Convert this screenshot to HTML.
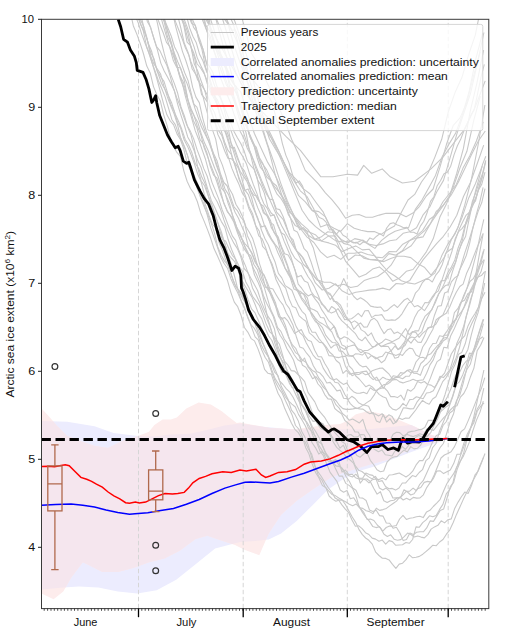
<!DOCTYPE html>
<html><head><meta charset="utf-8"><style>
html,body{margin:0;padding:0;background:#fff;}
svg{display:block;font-family:"Liberation Sans",sans-serif;}
</style></head><body>
<svg width="514" height="634" viewBox="0 0 514 634">
<rect width="514" height="634" fill="#fff"/>
<defs><clipPath id="c"><rect x="41.5" y="19.3" width="447.3" height="589.3000000000001"/></clipPath></defs>
<g clip-path="url(#c)">
<clipPath id="bc"><polygon points="41.5,420.9 67.2,421.7 94.5,426.3 113.5,433.1 138.0,435.9 154.4,436.5 170.0,434.5 190.4,433.8 210.9,429.0 224.5,425.6 240.0,423.5 265.7,427.0 291.4,429.2 330.0,429.5 368.4,429.2 411.2,425.0 432.6,435.7 447.5,439.2 447.5,439.2 428.0,446.0 410.0,452.5 390.0,460.2 374.5,466.5 359.0,471.1 343.4,478.9 327.8,489.8 312.3,505.4 296.7,520.9 281.1,533.4 268.7,539.6 255.0,541.0 240.0,542.0 215.1,548.6 195.6,564.2 176.2,579.8 156.7,590.3 137.3,593.4 117.8,591.4 98.4,587.5 78.9,586.4 63.3,587.5 41.5,589.5"/></clipPath>
<polygon points="41.5,420.9 67.2,421.7 94.5,426.3 113.5,433.1 138.0,435.9 154.4,436.5 170.0,434.5 190.4,433.8 210.9,429.0 224.5,425.6 240.0,423.5 265.7,427.0 291.4,429.2 330.0,429.5 368.4,429.2 411.2,425.0 432.6,435.7 447.5,439.2 447.5,439.2 428.0,446.0 410.0,452.5 390.0,460.2 374.5,466.5 359.0,471.1 343.4,478.9 327.8,489.8 312.3,505.4 296.7,520.9 281.1,533.4 268.7,539.6 255.0,541.0 240.0,542.0 215.1,548.6 195.6,564.2 176.2,579.8 156.7,590.3 137.3,593.4 117.8,591.4 98.4,587.5 78.9,586.4 63.3,587.5 41.5,589.5" fill="#ececfe"/>
<polygon points="41.5,408.6 48.2,415.4 56.3,425.0 67.2,435.9 80.9,441.3 95.0,446.0 108.0,448.0 121.7,441.3 138.0,435.9 149.0,431.8 154.4,425.0 162.6,419.5 170.8,419.5 176.8,417.5 186.3,408.6 198.6,402.5 210.9,404.5 221.8,411.3 228.6,416.8 236.7,422.9 240.0,422.5 270.0,428.0 295.6,429.2 325.6,425.0 340.0,424.0 347.0,421.0 356.0,414.3 368.5,411.1 384.0,414.3 396.5,419.0 415.2,426.7 430.7,434.5 447.5,439.2 447.5,439.2 411.2,448.5 390.0,459.0 368.3,464.9 343.4,472.7 330.9,477.4 312.3,489.8 296.7,500.7 281.1,514.7 268.7,533.4 259.3,555.2 245.0,550.0 235.0,545.0 222.9,540.9 207.3,535.8 195.6,538.9 180.1,550.6 164.5,558.4 149.0,562.3 133.4,568.1 117.8,572.0 102.3,572.0 90.6,566.1 82.8,562.3 71.1,577.8 63.3,591.4 53.6,599.2 41.5,593.4" fill="#fdecec"/>
<polygon points="41.5,408.6 48.2,415.4 56.3,425.0 67.2,435.9 80.9,441.3 95.0,446.0 108.0,448.0 121.7,441.3 138.0,435.9 149.0,431.8 154.4,425.0 162.6,419.5 170.8,419.5 176.8,417.5 186.3,408.6 198.6,402.5 210.9,404.5 221.8,411.3 228.6,416.8 236.7,422.9 240.0,422.5 270.0,428.0 295.6,429.2 325.6,425.0 340.0,424.0 347.0,421.0 356.0,414.3 368.5,411.1 384.0,414.3 396.5,419.0 415.2,426.7 430.7,434.5 447.5,439.2 447.5,439.2 411.2,448.5 390.0,459.0 368.3,464.9 343.4,472.7 330.9,477.4 312.3,489.8 296.7,500.7 281.1,514.7 268.7,533.4 259.3,555.2 245.0,550.0 235.0,545.0 222.9,540.9 207.3,535.8 195.6,538.9 180.1,550.6 164.5,558.4 149.0,562.3 133.4,568.1 117.8,572.0 102.3,572.0 90.6,566.1 82.8,562.3 71.1,577.8 63.3,591.4 53.6,599.2 41.5,593.4" fill="#f5e6ee" clip-path="url(#bc)"/>
<line x1="138.5" y1="19.3" x2="138.5" y2="608.6" stroke="#d6d6d6" stroke-width="1" stroke-dasharray="4.5,2.5" stroke-dashoffset="3.5"/>
<line x1="243.2" y1="19.3" x2="243.2" y2="608.6" stroke="#d6d6d6" stroke-width="1" stroke-dasharray="4.5,2.5" stroke-dashoffset="3.5"/>
<line x1="347.3" y1="19.3" x2="347.3" y2="608.6" stroke="#d6d6d6" stroke-width="1" stroke-dasharray="4.5,2.5" stroke-dashoffset="3.5"/>
<line x1="448.2" y1="19.3" x2="448.2" y2="608.6" stroke="#d6d6d6" stroke-width="1" stroke-dasharray="4.5,2.5" stroke-dashoffset="3.5"/>
<g fill="none" stroke="#c8c8c8" stroke-width="1.1" stroke-linejoin="round">
<polyline points="39.1,-252.7 42.4,-240.2 45.8,-233.6 49.2,-225.4 52.5,-216.8 55.9,-207.4 59.3,-199.6 62.6,-185.7 66.0,-176.9 69.4,-168.2 72.7,-153.0 76.1,-143.7 79.5,-132.8 82.8,-124.9 86.2,-113.6 89.6,-103.5 92.9,-94.1 96.3,-81.5 99.7,-72.7 103.0,-61.5 106.4,-52.2 109.8,-40.0 113.1,-32.2 116.5,-23.0 119.9,-11.9 123.2,-2.8 126.6,4.6 130.0,10.5 133.3,25.7 136.7,33.9 140.1,43.1 143.4,53.5 146.8,66.1 150.2,72.9 153.5,86.6 156.9,94.9 160.3,100.8 163.6,114.7 167.0,125.2 170.4,138.3 173.7,147.1 177.1,152.7 180.5,156.6 183.8,170.8 187.2,181.5 190.5,188.5 193.9,193.5 197.3,201.5 200.6,212.7 204.0,220.9 207.4,229.4 210.7,238.3 214.1,248.8 217.5,256.1 220.8,263.6 224.2,272.0 227.6,280.8 230.9,292.6 234.3,302.1 237.7,306.7 241.0,315.2 244.4,327.5 247.8,332.1 251.1,338.6 254.5,340.9 257.9,348.6 261.2,357.7 264.6,369.3 268.0,373.3 271.3,374.1 274.7,384.1 278.1,393.5 281.4,399.3 284.8,408.6 288.2,415.9 291.5,423.2 294.9,429.3 298.3,432.6 301.6,438.3 305.0,441.7 308.4,449.0 311.7,454.1 315.1,466.0 318.5,476.0 321.8,479.8 325.2,487.1 328.6,490.9 331.9,494.4 335.3,495.6 338.7,498.0 342.0,499.7 345.4,504.5 348.8,510.8 352.1,516.8 355.5,522.1 358.8,529.1 362.2,534.4 365.6,538.0 368.9,540.3 372.3,544.1 375.7,552.2 379.0,555.5 382.4,558.2 385.8,558.4 389.1,559.9 392.5,564.3 395.9,568.3 399.2,564.1 402.6,563.2 406.0,559.6 409.3,554.8 412.7,557.8 416.1,557.2 419.4,556.4 422.8,554.2 426.2,551.3 429.5,548.5 432.9,545.2 436.3,545.7 439.6,542.0 443.0,539.5 446.4,534.2 449.7,530.1 453.1,522.7 456.5,514.4 459.8,507.2 463.2,499.6 466.6,492.6 469.9,486.8 473.3,480.1 476.7,474.1 480.0,465.5 483.4,457.6"/>
<polyline points="39.0,-269.0 42.4,-262.7 45.7,-253.1 49.1,-240.3 52.5,-230.4 55.8,-216.2 59.2,-211.1 62.6,-196.8 65.9,-187.9 69.3,-179.2 72.7,-165.2 76.0,-155.9 79.4,-148.5 82.8,-139.5 86.1,-129.8 89.5,-122.4 92.9,-112.6 96.2,-103.0 99.6,-92.2 103.0,-83.2 106.3,-69.9 109.7,-61.6 113.1,-49.8 116.4,-36.4 119.8,-27.6 123.2,-22.3 126.5,-15.3 129.9,-4.3 133.3,3.0 136.6,13.4 140.0,22.6 143.4,31.3 146.7,47.0 150.1,55.8 153.5,67.7 156.8,78.5 160.2,91.1 163.5,103.7 166.9,114.8 170.3,121.0 173.6,124.9 177.0,133.9 180.4,139.5 183.7,148.8 187.1,162.5 190.5,170.7 193.8,178.3 197.2,188.5 200.6,196.9 203.9,204.1 207.3,215.2 210.7,227.9 214.0,237.3 217.4,247.1 220.8,257.2 224.1,263.5 227.5,268.2 230.9,278.7 234.2,285.9 237.6,292.6 241.0,300.3 244.3,307.0 247.7,317.4 251.1,324.9 254.4,328.4 257.8,334.8 261.2,345.0 264.5,351.5 267.9,356.1 271.3,363.0 274.6,372.1 278.0,375.6 281.4,386.6 284.7,392.4 288.1,399.5 291.5,410.1 294.8,414.2 298.2,420.7 301.6,431.2 304.9,437.1 308.3,445.3 311.7,457.7 315.0,466.5 318.4,472.4 321.8,477.3 325.1,482.7 328.5,488.0 331.8,492.3 335.2,498.1 338.6,500.0 341.9,504.9 345.3,509.2 348.7,512.7 352.0,520.0 355.4,526.2 358.8,525.8 362.1,528.6 365.5,532.7 368.9,534.5 372.2,538.1 375.6,539.1 379.0,541.2 382.3,540.1 385.7,544.2 389.1,540.6 392.4,541.6 395.8,545.3 399.2,545.0 402.5,544.8 405.9,542.5 409.3,543.3 412.6,539.5 416.0,526.9 419.4,527.2 422.7,522.7 426.1,519.9 429.5,515.8 432.8,516.8 436.2,515.4 439.6,509.4 442.9,504.4 446.3,493.9 449.7,489.7 453.0,482.4 456.4,467.5 459.8,462.0 463.1,456.8 466.5,449.1 469.9,440.8 473.2,429.7 476.6,419.9 480.0,412.1 483.3,401.2"/>
<polyline points="40.7,-262.4 44.0,-252.1 47.4,-246.2 50.8,-237.3 54.1,-227.5 57.5,-215.7 60.9,-204.4 64.2,-193.4 67.6,-176.4 71.0,-169.8 74.3,-161.7 77.7,-151.4 81.1,-144.3 84.4,-135.7 87.8,-127.2 91.2,-110.6 94.5,-100.1 97.9,-91.1 101.3,-85.3 104.6,-80.1 108.0,-74.0 111.4,-60.9 114.7,-45.1 118.1,-36.9 121.5,-26.7 124.8,-19.1 128.2,-8.6 131.6,0.8 134.9,14.7 138.3,23.1 141.7,34.1 145.0,43.0 148.4,51.8 151.8,62.0 155.1,71.1 158.5,81.0 161.8,88.7 165.2,97.1 168.6,108.3 171.9,119.7 175.3,124.6 178.7,134.3 182.0,140.8 185.4,148.8 188.8,159.7 192.1,170.5 195.5,178.8 198.9,186.7 202.2,193.7 205.6,205.5 209.0,215.4 212.3,224.0 215.7,227.9 219.1,242.7 222.4,250.2 225.8,260.3 229.2,268.2 232.5,278.7 235.9,287.0 239.3,291.5 242.6,298.4 246.0,303.9 249.4,309.6 252.7,318.3 256.1,324.1 259.5,332.3 262.8,342.6 266.2,350.8 269.6,359.3 272.9,364.8 276.3,372.3 279.7,381.1 283.0,384.5 286.4,388.8 289.8,392.2 293.1,397.3 296.5,404.2 299.9,411.8 303.2,418.5 306.6,421.9 310.0,427.5 313.3,436.9 316.7,442.2 320.1,451.4 323.4,455.7 326.8,464.1 330.1,472.4 333.5,476.8 336.9,481.4 340.2,490.0 343.6,492.2 347.0,490.5 350.3,498.7 353.7,497.7 357.1,503.3 360.4,508.3 363.8,512.4 367.2,519.5 370.5,519.1 373.9,520.5 377.3,525.0 380.6,528.2 384.0,534.2 387.4,536.5 390.7,534.8 394.1,539.2 397.5,540.2 400.8,539.6 404.2,536.7 407.6,533.1 410.9,534.5 414.3,537.0 417.7,536.0 421.0,537.1 424.4,537.9 427.8,534.6 431.1,529.1 434.5,526.9 437.9,525.3 441.2,520.8 444.6,522.9 448.0,519.7 451.3,518.9 454.7,508.4 458.1,502.1 461.4,496.8 464.8,492.1 468.2,493.4 471.5,485.5 474.9,475.1 478.3,470.8 481.6,462.5 485.0,453.5"/>
<polyline points="39.6,-293.9 43.0,-281.6 46.4,-272.8 49.7,-260.0 53.1,-253.5 56.5,-241.9 59.8,-233.2 63.2,-221.9 66.6,-211.3 69.9,-205.1 73.3,-196.2 76.7,-185.8 80.0,-172.8 83.4,-166.6 86.8,-159.2 90.1,-148.8 93.5,-139.7 96.9,-127.1 100.2,-114.5 103.6,-102.5 107.0,-93.7 110.3,-84.5 113.7,-72.6 117.1,-64.8 120.4,-57.3 123.8,-47.9 127.1,-40.9 130.5,-30.0 133.9,-19.7 137.2,-11.0 140.6,-0.8 144.0,7.5 147.3,21.4 150.7,27.6 154.1,39.7 157.4,49.8 160.8,63.1 164.2,71.0 167.5,77.0 170.9,83.5 174.3,90.6 177.6,104.2 181.0,115.3 184.4,125.5 187.7,136.9 191.1,143.0 194.5,151.5 197.8,160.6 201.2,167.8 204.6,178.6 207.9,189.6 211.3,200.4 214.7,207.2 218.0,214.8 221.4,221.6 224.8,227.1 228.1,239.3 231.5,249.2 234.9,257.3 238.2,269.6 241.6,279.8 245.0,285.7 248.3,291.3 251.7,296.6 255.1,304.5 258.4,313.4 261.8,318.9 265.2,328.2 268.5,335.8 271.9,340.5 275.3,349.4 278.6,358.8 282.0,366.1 285.4,371.4 288.7,376.8 292.1,382.7 295.4,387.4 298.8,397.7 302.2,405.7 305.5,411.1 308.9,419.5 312.3,429.0 315.6,437.9 319.0,445.6 322.4,450.9 325.7,458.1 329.1,461.9 332.5,461.4 335.8,465.9 339.2,466.4 342.6,469.3 345.9,476.3 349.3,481.2 352.7,488.0 356.0,490.3 359.4,497.7 362.8,498.1 366.1,500.5 369.5,510.0 372.9,511.4 376.2,510.3 379.6,515.6 383.0,516.1 386.3,523.0 389.7,523.2 393.1,528.3 396.4,527.3 399.8,532.7 403.2,540.6 406.5,539.4 409.9,533.1 413.3,534.6 416.6,532.2 420.0,531.7 423.4,531.8 426.7,527.9 430.1,520.9 433.5,521.4 436.8,516.1 440.2,510.4 443.6,509.1 446.9,498.5 450.3,486.6 453.7,482.3 457.0,469.9 460.4,461.3 463.7,452.9 467.1,439.2 470.5,428.3 473.8,416.8 477.2,401.1 480.6,385.2 483.9,370.0"/>
<polyline points="39.5,-269.9 42.8,-260.0 46.2,-249.8 49.6,-243.7 52.9,-230.0 56.3,-220.3 59.7,-210.2 63.0,-202.2 66.4,-193.9 69.8,-182.7 73.1,-173.5 76.5,-162.4 79.9,-153.7 83.2,-143.5 86.6,-132.1 90.0,-122.5 93.3,-114.2 96.7,-110.9 100.1,-99.7 103.4,-90.6 106.8,-84.7 110.2,-69.3 113.5,-55.3 116.9,-42.5 120.3,-32.7 123.6,-30.4 127.0,-22.5 130.4,-17.0 133.7,-7.4 137.1,8.5 140.5,24.1 143.8,30.5 147.2,39.6 150.6,52.5 153.9,58.4 157.3,71.4 160.7,76.8 164.0,81.3 167.4,92.3 170.8,104.4 174.1,110.9 177.5,122.4 180.8,128.5 184.2,140.1 187.6,146.4 190.9,154.2 194.3,163.5 197.7,174.0 201.0,181.4 204.4,194.7 207.8,203.9 211.1,213.2 214.5,219.5 217.9,231.0 221.2,234.0 224.6,242.6 228.0,253.8 231.3,258.0 234.7,261.6 238.1,270.4 241.4,281.2 244.8,289.4 248.2,299.9 251.5,308.9 254.9,312.6 258.3,320.2 261.6,328.1 265.0,335.1 268.4,343.6 271.7,349.6 275.1,355.2 278.5,364.4 281.8,372.2 285.2,373.0 288.6,379.3 291.9,387.2 295.3,388.6 298.7,395.4 302.0,405.1 305.4,409.7 308.8,418.6 312.1,426.2 315.5,431.2 318.9,437.3 322.2,445.3 325.6,452.5 329.0,459.6 332.3,461.7 335.7,469.0 339.1,476.1 342.4,476.1 345.8,483.4 349.1,485.4 352.5,488.3 355.9,495.6 359.2,506.8 362.6,512.6 366.0,517.5 369.3,521.1 372.7,526.4 376.1,527.6 379.4,526.7 382.8,531.1 386.2,527.5 389.5,526.1 392.9,526.2 396.3,525.5 399.6,519.0 403.0,515.3 406.4,519.4 409.7,518.2 413.1,517.8 416.5,516.8 419.8,516.2 423.2,517.6 426.6,511.9 429.9,510.3 433.3,506.5 436.7,503.1 440.0,499.6 443.4,491.5 446.8,483.8 450.1,478.7 453.5,473.9 456.9,467.3 460.2,456.4 463.6,447.4 467.0,437.8 470.3,429.4 473.7,420.3 477.1,409.3 480.4,403.7 483.8,388.1"/>
<polyline points="39.7,-313.7 43.0,-305.3 46.4,-298.9 49.8,-288.7 53.1,-277.4 56.5,-263.8 59.9,-252.3 63.2,-240.9 66.6,-228.4 70.0,-220.9 73.3,-211.0 76.7,-197.6 80.1,-196.6 83.4,-186.0 86.8,-174.0 90.1,-169.0 93.5,-163.3 96.9,-151.1 100.2,-138.1 103.6,-126.5 107.0,-120.3 110.3,-110.1 113.7,-98.2 117.1,-88.3 120.4,-82.0 123.8,-68.9 127.2,-58.4 130.5,-45.1 133.9,-41.9 137.3,-38.0 140.6,-31.6 144.0,-22.0 147.4,-14.4 150.7,0.8 154.1,9.3 157.5,23.6 160.8,39.5 164.2,53.4 167.6,65.8 170.9,74.9 174.3,83.4 177.7,93.3 181.0,107.0 184.4,116.0 187.8,127.4 191.1,135.4 194.5,149.4 197.9,168.6 201.2,181.0 204.6,185.8 208.0,195.2 211.3,206.3 214.7,214.1 218.1,223.1 221.4,232.0 224.8,243.8 228.2,254.3 231.5,264.9 234.9,277.5 238.3,291.3 241.6,301.9 245.0,309.8 248.4,318.5 251.7,327.6 255.1,336.9 258.4,340.2 261.8,350.0 265.2,357.5 268.5,362.3 271.9,372.6 275.3,381.8 278.6,388.3 282.0,392.8 285.4,400.5 288.7,407.4 292.1,414.9 295.5,425.5 298.8,429.2 302.2,436.3 305.6,447.4 308.9,453.8 312.3,464.3 315.7,472.8 319.0,478.0 322.4,485.6 325.8,487.4 329.1,496.0 332.5,499.1 335.9,501.2 339.2,500.0 342.6,500.2 346.0,502.0 349.3,504.2 352.7,505.7 356.1,503.9 359.4,507.7 362.8,508.4 366.2,510.7 369.5,511.6 372.9,513.6 376.3,508.2 379.6,510.4 383.0,509.6 386.4,508.4 389.7,505.9 393.1,503.5 396.5,501.1 399.8,497.0 403.2,500.0 406.6,498.2 409.9,500.0 413.3,497.4 416.7,498.1 420.0,497.9 423.4,494.8 426.7,487.6 430.1,482.6 433.5,478.3 436.8,471.1 440.2,470.8 443.6,473.6 446.9,471.8 450.3,469.9 453.7,463.6 457.0,454.2 460.4,454.3 463.8,443.4 467.1,434.6 470.5,427.9 473.9,422.6 477.2,411.3 480.6,406.5 484.0,402.9"/>
<polyline points="40.5,-262.4 43.8,-249.4 47.2,-242.2 50.6,-232.0 53.9,-224.4 57.3,-214.9 60.7,-201.0 64.0,-190.4 67.4,-183.0 70.8,-177.1 74.1,-164.7 77.5,-150.6 80.9,-140.0 84.2,-131.4 87.6,-121.7 91.0,-110.9 94.3,-104.8 97.7,-99.0 101.1,-92.5 104.4,-80.7 107.8,-71.4 111.2,-61.0 114.5,-46.8 117.9,-39.4 121.3,-29.6 124.6,-18.2 128.0,-12.5 131.4,-5.1 134.7,2.3 138.1,9.0 141.4,17.2 144.8,31.7 148.2,43.3 151.5,51.0 154.9,63.9 158.3,74.2 161.6,83.5 165.0,89.6 168.4,95.8 171.7,103.1 175.1,113.7 178.5,121.2 181.8,129.3 185.2,139.5 188.6,145.0 191.9,152.8 195.3,163.5 198.7,168.5 202.0,177.6 205.4,184.2 208.8,197.0 212.1,205.2 215.5,216.1 218.9,226.6 222.2,239.6 225.6,241.0 229.0,248.7 232.3,255.3 235.7,259.1 239.1,266.2 242.4,271.2 245.8,281.9 249.2,288.1 252.5,296.3 255.9,300.8 259.3,305.3 262.6,313.9 266.0,323.6 269.4,331.3 272.7,334.6 276.1,339.5 279.5,344.3 282.8,355.6 286.2,368.4 289.6,374.9 292.9,380.5 296.3,387.4 299.7,391.5 303.0,397.0 306.4,405.0 309.7,411.9 313.1,416.2 316.5,421.1 319.8,426.5 323.2,425.0 326.6,430.9 329.9,435.1 333.3,442.0 336.7,447.4 340.0,450.4 343.4,453.2 346.8,457.6 350.1,460.0 353.5,463.1 356.9,471.2 360.2,483.1 363.6,479.0 367.0,479.0 370.3,481.4 373.7,488.3 377.1,494.1 380.4,491.7 383.8,500.7 387.2,502.5 390.5,500.8 393.9,500.2 397.3,497.8 400.6,497.5 404.0,489.7 407.4,492.0 410.7,495.0 414.1,493.7 417.5,488.8 420.8,487.5 424.2,482.4 427.6,481.4 430.9,482.1 434.3,474.7 437.7,466.3 441.0,458.0 444.4,455.0 447.8,453.5 451.1,451.7 454.5,446.6 457.9,439.0 461.2,431.5 464.6,428.9 468.0,421.1 471.3,413.1 474.7,404.6 478.0,396.3 481.4,388.3 484.8,377.7"/>
<polyline points="38.8,-285.3 42.2,-276.8 45.5,-267.6 48.9,-257.0 52.3,-242.2 55.6,-238.0 59.0,-223.3 62.4,-212.4 65.7,-204.3 69.1,-195.5 72.5,-187.4 75.8,-179.8 79.2,-173.3 82.6,-163.8 85.9,-162.4 89.3,-149.2 92.7,-139.4 96.0,-127.7 99.4,-115.3 102.7,-105.4 106.1,-99.1 109.5,-86.7 112.8,-74.4 116.2,-66.9 119.6,-58.8 122.9,-54.8 126.3,-48.2 129.7,-39.1 133.0,-28.3 136.4,-19.1 139.8,-8.5 143.1,5.6 146.5,15.3 149.9,25.6 153.2,36.0 156.6,46.6 160.0,50.9 163.3,58.3 166.7,64.9 170.1,75.8 173.4,88.0 176.8,97.9 180.2,106.2 183.5,116.0 186.9,125.3 190.3,131.1 193.6,138.6 197.0,149.4 200.4,158.5 203.7,168.4 207.1,176.0 210.5,187.5 213.8,196.0 217.2,201.8 220.6,209.5 223.9,219.9 227.3,229.5 230.7,237.1 234.0,243.4 237.4,248.6 240.8,256.8 244.1,268.5 247.5,272.1 250.9,278.3 254.2,284.2 257.6,290.5 261.0,300.9 264.3,309.1 267.7,315.9 271.0,320.7 274.4,328.7 277.8,345.9 281.1,354.3 284.5,361.1 287.9,365.0 291.2,370.6 294.6,371.1 298.0,374.5 301.3,377.6 304.7,381.6 308.1,392.6 311.4,397.1 314.8,401.9 318.2,409.7 321.5,413.7 324.9,417.7 328.3,423.5 331.6,428.1 335.0,432.8 338.4,436.3 341.7,441.5 345.1,443.6 348.5,453.1 351.8,457.4 355.2,465.7 358.6,470.2 361.9,471.5 365.3,474.2 368.7,476.9 372.0,478.9 375.4,476.4 378.8,481.5 382.1,480.6 385.5,486.5 388.9,488.8 392.2,488.4 395.6,490.1 399.0,488.0 402.3,483.0 405.7,482.9 409.1,479.0 412.4,475.6 415.8,476.7 419.2,472.5 422.5,469.7 425.9,460.7 429.3,457.9 432.6,447.6 436.0,443.5 439.3,431.8 442.7,423.5 446.1,415.4 449.4,406.1 452.8,396.6 456.2,385.1 459.5,372.5 462.9,365.5 466.3,361.0 469.6,360.0 473.0,352.1 476.4,340.6 479.7,329.8 483.1,319.4"/>
<polyline points="39.4,-263.4 42.8,-251.8 46.2,-240.3 49.5,-231.6 52.9,-220.4 56.3,-219.8 59.6,-210.7 63.0,-201.2 66.4,-192.0 69.7,-181.1 73.1,-165.9 76.5,-157.0 79.8,-149.8 83.2,-136.9 86.6,-128.9 89.9,-117.3 93.3,-108.8 96.7,-101.5 100.0,-94.6 103.4,-87.0 106.8,-76.2 110.1,-70.3 113.5,-60.4 116.9,-52.7 120.2,-45.9 123.6,-36.5 127.0,-24.1 130.3,-17.0 133.7,-4.6 137.1,7.1 140.4,19.4 143.8,26.8 147.1,38.3 150.5,55.7 153.9,64.0 157.2,68.7 160.6,74.1 164.0,86.4 167.3,96.7 170.7,105.9 174.1,113.8 177.4,124.1 180.8,138.3 184.2,146.9 187.5,155.4 190.9,168.9 194.3,179.8 197.6,188.9 201.0,198.9 204.4,207.2 207.7,214.5 211.1,222.9 214.5,233.2 217.8,247.0 221.2,255.3 224.6,261.1 227.9,265.1 231.3,274.8 234.7,284.2 238.0,289.0 241.4,293.6 244.8,300.9 248.1,307.1 251.5,317.5 254.9,323.5 258.2,333.2 261.6,340.9 265.0,348.5 268.3,356.9 271.7,369.7 275.1,378.6 278.4,383.8 281.8,389.9 285.2,396.6 288.5,400.9 291.9,404.1 295.3,407.0 298.6,414.6 302.0,419.9 305.4,426.0 308.7,433.7 312.1,442.8 315.4,447.6 318.8,454.1 322.2,451.3 325.5,454.7 328.9,458.6 332.3,462.6 335.6,459.7 339.0,465.3 342.4,468.5 345.7,473.3 349.1,475.8 352.5,477.0 355.8,474.2 359.2,478.3 362.6,478.3 365.9,473.1 369.3,474.6 372.7,475.4 376.0,478.9 379.4,488.0 382.8,489.9 386.1,488.1 389.5,491.1 392.9,498.0 396.2,497.9 399.6,498.0 403.0,494.9 406.3,491.4 409.7,491.1 413.1,488.1 416.4,490.7 419.8,484.3 423.2,480.7 426.5,473.6 429.9,465.9 433.3,460.8 436.6,453.9 440.0,447.7 443.4,443.5 446.7,433.3 450.1,421.8 453.5,414.0 456.8,400.9 460.2,389.7 463.6,377.7 466.9,369.5 470.3,364.3 473.7,351.8 477.0,339.5 480.4,329.0 483.7,319.2"/>
<polyline points="39.1,-321.2 42.5,-315.7 45.8,-310.0 49.2,-299.0 52.6,-289.2 55.9,-280.9 59.3,-266.1 62.7,-254.7 66.0,-243.4 69.4,-238.3 72.8,-226.9 76.1,-222.5 79.5,-213.2 82.9,-199.0 86.2,-196.4 89.6,-184.4 93.0,-176.9 96.3,-172.5 99.7,-161.7 103.1,-148.6 106.4,-142.3 109.8,-132.8 113.1,-119.0 116.5,-105.8 119.9,-94.7 123.2,-87.6 126.6,-76.9 130.0,-69.0 133.3,-64.0 136.7,-58.3 140.1,-53.3 143.4,-47.5 146.8,-33.4 150.2,-27.7 153.5,-19.6 156.9,-10.0 160.3,2.3 163.6,15.7 167.0,29.5 170.4,40.4 173.7,54.4 177.1,67.4 180.5,79.5 183.8,87.7 187.2,98.7 190.6,109.2 193.9,115.3 197.3,126.2 200.7,134.2 204.0,147.2 207.4,156.1 210.8,165.2 214.1,173.8 217.5,183.8 220.9,195.1 224.2,203.7 227.6,212.2 231.0,216.2 234.3,220.8 237.7,231.4 241.1,236.6 244.4,245.4 247.8,251.9 251.2,261.7 254.5,275.1 257.9,281.9 261.3,290.2 264.6,303.6 268.0,319.2 271.4,330.4 274.7,342.9 278.1,352.7 281.4,359.5 284.8,364.2 288.2,374.2 291.5,379.1 294.9,385.2 298.3,396.3 301.6,411.4 305.0,419.2 308.4,427.9 311.7,431.3 315.1,435.9 318.5,441.9 321.8,443.8 325.2,452.6 328.6,456.7 331.9,461.5 335.3,459.7 338.7,460.9 342.0,472.0 345.4,470.0 348.8,474.6 352.1,474.2 355.5,477.7 358.9,478.9 362.2,479.1 365.6,479.8 369.0,482.9 372.3,479.7 375.7,479.0 379.1,479.6 382.4,477.9 385.8,479.9 389.2,475.0 392.5,474.8 395.9,473.9 399.3,473.0 402.6,474.9 406.0,477.0 409.4,474.6 412.7,471.2 416.1,464.9 419.5,460.6 422.8,460.6 426.2,455.3 429.6,448.7 432.9,441.2 436.3,435.5 439.7,434.2 443.0,425.5 446.4,421.5 449.7,413.0 453.1,410.5 456.5,400.7 459.8,395.0 463.2,383.3 466.6,369.2 469.9,356.7 473.3,350.5 476.7,343.5 480.0,335.9 483.4,323.7"/>
<polyline points="40.4,-305.0 43.8,-294.4 47.1,-285.4 50.5,-274.3 53.9,-266.1 57.2,-257.4 60.6,-249.0 64.0,-241.9 67.3,-232.8 70.7,-224.0 74.1,-220.1 77.4,-210.8 80.8,-203.8 84.2,-194.6 87.5,-183.7 90.9,-172.8 94.3,-160.8 97.6,-151.5 101.0,-140.3 104.4,-129.4 107.7,-123.4 111.1,-113.3 114.5,-107.0 117.8,-97.8 121.2,-90.5 124.6,-78.8 127.9,-69.3 131.3,-67.1 134.7,-59.4 138.0,-52.4 141.4,-43.2 144.8,-36.2 148.1,-23.2 151.5,-11.6 154.9,-3.8 158.2,2.4 161.6,11.8 165.0,21.9 168.3,33.1 171.7,43.7 175.1,57.1 178.4,71.2 181.8,81.0 185.2,95.6 188.5,107.7 191.9,118.8 195.3,130.9 198.6,139.2 202.0,149.4 205.3,158.7 208.7,171.1 212.1,182.6 215.4,190.6 218.8,199.1 222.2,210.0 225.5,218.3 228.9,227.1 232.3,235.9 235.6,240.3 239.0,250.8 242.4,258.8 245.7,266.4 249.1,275.9 252.5,287.9 255.8,294.2 259.2,301.4 262.6,309.2 265.9,316.9 269.3,324.7 272.7,335.2 276.0,342.1 279.4,355.4 282.8,363.3 286.1,375.2 289.5,383.6 292.9,388.3 296.2,395.6 299.6,402.6 303.0,406.2 306.3,411.3 309.7,416.7 313.1,421.4 316.4,420.6 319.8,422.0 323.2,423.9 326.5,431.1 329.9,432.5 333.3,439.5 336.6,441.4 340.0,448.2 343.4,445.2 346.7,452.6 350.1,450.6 353.5,449.2 356.8,455.4 360.2,457.2 363.6,454.0 366.9,452.4 370.3,460.3 373.6,464.5 377.0,469.7 380.4,471.8 383.7,471.0 387.1,462.0 390.5,458.6 393.8,457.0 397.2,456.4 400.6,453.2 403.9,450.1 407.3,452.0 410.7,446.6 414.0,448.9 417.4,448.3 420.8,445.0 424.1,437.6 427.5,436.2 430.9,432.3 434.2,425.0 437.6,419.1 441.0,410.7 444.3,402.6 447.7,396.3 451.1,388.3 454.4,378.5 457.8,371.3 461.2,358.6 464.5,356.0 467.9,349.4 471.3,334.8 474.6,322.6 478.0,312.9 481.4,299.4 484.7,283.0"/>
<polyline points="38.6,-303.6 41.9,-291.6 45.3,-281.2 48.7,-268.1 52.0,-257.9 55.4,-253.7 58.8,-244.8 62.1,-237.7 65.5,-227.2 68.9,-223.7 72.2,-215.2 75.6,-202.5 79.0,-195.6 82.3,-185.2 85.7,-177.9 89.1,-169.3 92.4,-161.6 95.8,-153.6 99.2,-142.6 102.5,-129.9 105.9,-124.5 109.3,-116.2 112.6,-109.2 116.0,-100.1 119.4,-86.3 122.7,-74.8 126.1,-71.6 129.5,-61.8 132.8,-52.8 136.2,-40.7 139.6,-31.5 142.9,-22.4 146.3,-13.7 149.7,-5.1 153.0,5.3 156.4,15.5 159.7,24.0 163.1,32.5 166.5,42.4 169.8,46.7 173.2,55.5 176.6,64.5 179.9,76.0 183.3,82.1 186.7,94.4 190.0,108.7 193.4,120.7 196.8,127.6 200.1,139.6 203.5,144.2 206.9,152.9 210.2,166.1 213.6,175.1 217.0,178.2 220.3,189.7 223.7,203.0 227.1,210.5 230.4,216.0 233.8,222.0 237.2,232.0 240.5,240.5 243.9,248.4 247.3,253.4 250.6,255.4 254.0,264.7 257.4,269.8 260.7,279.8 264.1,286.9 267.5,298.7 270.8,309.8 274.2,316.9 277.6,327.6 280.9,331.4 284.3,339.0 287.7,343.9 291.0,349.1 294.4,355.0 297.8,359.7 301.1,361.8 304.5,358.0 307.9,366.9 311.2,371.0 314.6,376.6 318.0,384.0 321.3,387.6 324.7,394.6 328.0,398.9 331.4,399.1 334.8,408.5 338.1,411.3 341.5,413.7 344.9,420.5 348.2,423.1 351.6,426.3 355.0,431.9 358.3,432.0 361.7,439.1 365.1,439.8 368.4,442.8 371.8,447.6 375.2,449.7 378.5,451.7 381.9,449.9 385.3,454.8 388.6,455.2 392.0,456.0 395.4,450.3 398.7,451.9 402.1,446.5 405.5,449.3 408.8,445.1 412.2,442.1 415.6,437.3 418.9,435.4 422.3,436.9 425.7,436.8 429.0,428.4 432.4,422.7 435.8,420.4 439.1,412.7 442.5,410.1 445.9,406.9 449.2,405.0 452.6,396.1 456.0,384.7 459.3,381.8 462.7,374.9 466.1,365.9 469.4,353.1 472.8,354.0 476.2,347.2 479.5,339.0 482.9,336.8"/>
<polyline points="37.7,-332.2 41.1,-328.0 44.5,-321.0 47.8,-309.4 51.2,-300.6 54.6,-292.2 57.9,-282.6 61.3,-270.8 64.7,-265.6 68.0,-258.3 71.4,-249.1 74.8,-236.2 78.1,-226.5 81.5,-218.8 84.9,-213.8 88.2,-205.0 91.6,-200.3 95.0,-192.8 98.3,-182.9 101.7,-166.3 105.0,-154.2 108.4,-141.2 111.8,-132.3 115.1,-125.4 118.5,-121.4 121.9,-113.3 125.2,-101.5 128.6,-100.1 132.0,-91.7 135.3,-81.1 138.7,-70.4 142.1,-56.3 145.4,-48.4 148.8,-40.2 152.2,-35.7 155.5,-29.6 158.9,-23.1 162.3,-17.8 165.6,-8.1 169.0,2.2 172.4,11.7 175.7,26.7 179.1,39.1 182.5,51.6 185.8,60.5 189.2,71.2 192.6,87.2 195.9,97.1 199.3,102.6 202.7,118.1 206.0,130.1 209.4,139.6 212.8,153.4 216.1,164.5 219.5,173.7 222.9,187.4 226.2,195.9 229.6,203.9 233.0,217.3 236.3,226.5 239.7,232.4 243.1,242.4 246.4,250.6 249.8,257.9 253.2,268.1 256.5,274.5 259.9,282.6 263.3,295.2 266.6,303.2 270.0,309.8 273.3,316.6 276.7,327.6 280.1,335.2 283.4,340.2 286.8,348.5 290.2,354.1 293.5,360.0 296.9,370.5 300.3,379.1 303.6,390.5 307.0,397.4 310.4,407.1 313.7,416.8 317.1,423.2 320.5,428.2 323.8,430.1 327.2,430.7 330.6,435.5 333.9,439.0 337.3,439.3 340.7,439.3 344.0,441.1 347.4,435.2 350.8,434.5 354.1,437.0 357.5,436.9 360.9,434.5 364.2,434.7 367.6,441.4 371.0,442.4 374.3,443.7 377.7,438.2 381.1,444.8 384.4,441.1 387.8,442.3 391.2,439.9 394.5,440.9 397.9,440.6 401.3,437.4 404.6,436.9 408.0,432.4 411.4,431.4 414.7,431.0 418.1,429.9 421.5,429.4 424.8,427.5 428.2,420.4 431.6,420.4 434.9,420.9 438.3,415.6 441.6,404.5 445.0,394.7 448.4,383.1 451.7,370.9 455.1,364.2 458.5,354.3 461.8,352.4 465.2,343.8 468.6,330.7 471.9,323.3 475.3,316.5 478.7,306.3 482.0,290.5 485.4,271.0"/>
<polyline points="39.7,-294.1 43.0,-286.2 46.4,-279.9 49.8,-270.4 53.1,-263.1 56.5,-259.4 59.9,-246.5 63.2,-233.3 66.6,-224.9 70.0,-220.6 73.3,-211.0 76.7,-204.1 80.1,-193.1 83.4,-185.8 86.8,-174.5 90.1,-166.7 93.5,-157.5 96.9,-148.2 100.2,-142.2 103.6,-135.3 107.0,-123.2 110.3,-115.8 113.7,-100.5 117.1,-93.3 120.4,-91.9 123.8,-83.6 127.2,-75.3 130.5,-66.2 133.9,-59.3 137.3,-48.4 140.6,-41.3 144.0,-30.8 147.4,-20.1 150.7,-11.5 154.1,-2.3 157.5,11.8 160.8,13.6 164.2,22.1 167.6,37.0 170.9,43.4 174.3,52.9 177.7,61.7 181.0,68.9 184.4,80.9 187.8,99.4 191.1,108.7 194.5,116.6 197.9,122.6 201.2,133.7 204.6,143.1 208.0,150.2 211.3,159.2 214.7,168.2 218.1,176.2 221.4,188.2 224.8,192.2 228.2,203.6 231.5,212.3 234.9,221.7 238.3,232.1 241.6,238.7 245.0,243.9 248.4,247.3 251.7,253.2 255.1,262.2 258.4,267.1 261.8,278.6 265.2,285.3 268.5,290.6 271.9,295.6 275.3,305.7 278.6,316.7 282.0,317.7 285.4,325.5 288.7,336.7 292.1,346.6 295.5,352.6 298.8,354.7 302.2,360.1 305.6,361.9 308.9,366.8 312.3,370.4 315.7,372.2 319.0,378.4 322.4,382.5 325.8,388.7 329.1,395.3 332.5,397.8 335.9,404.7 339.2,408.1 342.6,413.8 346.0,416.4 349.3,420.3 352.7,419.1 356.1,421.0 359.4,422.9 362.8,419.4 366.2,430.2 369.5,435.3 372.9,445.0 376.3,445.5 379.6,444.2 383.0,441.3 386.4,439.5 389.7,441.1 393.1,434.3 396.5,432.3 399.8,432.6 403.2,435.9 406.6,434.3 409.9,435.6 413.3,436.6 416.7,435.3 420.0,433.8 423.4,434.9 426.7,429.0 430.1,429.5 433.5,430.4 436.8,426.1 440.2,422.0 443.6,417.8 446.9,414.6 450.3,410.0 453.7,406.6 457.0,405.7 460.4,397.1 463.8,393.5 467.1,386.9 470.5,376.7 473.9,368.1 477.2,350.6 480.6,345.3 484.0,337.5"/>
<polyline points="39.9,-307.2 43.3,-300.3 46.6,-291.1 50.0,-283.6 53.4,-272.2 56.7,-263.5 60.1,-251.9 63.5,-238.8 66.8,-236.2 70.2,-229.6 73.6,-224.7 76.9,-213.8 80.3,-205.7 83.7,-196.8 87.0,-184.3 90.4,-177.8 93.8,-166.8 97.1,-157.9 100.5,-144.8 103.9,-139.8 107.2,-134.0 110.6,-126.8 114.0,-115.9 117.3,-105.8 120.7,-101.3 124.1,-92.3 127.4,-85.0 130.8,-76.8 134.2,-64.9 137.5,-61.5 140.9,-47.2 144.3,-39.4 147.6,-30.5 151.0,-16.7 154.4,-8.8 157.7,-1.4 161.1,7.7 164.5,19.6 167.8,27.7 171.2,36.0 174.6,47.0 177.9,53.5 181.3,63.1 184.7,72.8 188.0,80.4 191.4,94.2 194.7,107.6 198.1,117.4 201.5,127.1 204.8,133.4 208.2,140.3 211.6,149.9 214.9,159.0 218.3,169.1 221.7,179.0 225.0,189.0 228.4,194.4 231.8,203.7 235.1,212.2 238.5,218.2 241.9,226.6 245.2,234.0 248.6,247.6 252.0,253.1 255.3,261.1 258.7,267.6 262.1,273.8 265.4,287.3 268.8,287.8 272.2,295.4 275.5,302.7 278.9,316.6 282.3,322.7 285.6,329.2 289.0,338.2 292.4,344.9 295.7,348.3 299.1,356.1 302.5,365.3 305.8,367.2 309.2,372.5 312.6,378.7 315.9,376.7 319.3,381.2 322.7,386.5 326.0,389.8 329.4,395.0 332.8,398.1 336.1,400.8 339.5,405.5 342.9,408.6 346.2,409.4 349.6,409.4 353.0,408.9 356.3,408.2 359.7,408.9 363.0,409.1 366.4,411.7 369.8,413.8 373.1,412.5 376.5,421.1 379.9,422.4 383.2,414.6 386.6,422.1 390.0,418.6 393.3,423.9 396.7,421.7 400.1,415.0 403.4,407.8 406.8,408.1 410.2,408.9 413.5,408.8 416.9,402.2 420.3,397.9 423.6,392.6 427.0,385.9 430.4,378.1 433.7,369.3 437.1,361.6 440.5,359.2 443.8,347.3 447.2,347.9 450.6,336.0 453.9,329.6 457.3,321.8 460.7,314.7 464.0,306.9 467.4,297.7 470.8,289.4 474.1,283.1 477.5,271.1 480.9,263.1 484.2,249.0"/>
<polyline points="38.7,-289.6 42.1,-282.9 45.5,-275.9 48.8,-268.2 52.2,-255.6 55.6,-248.8 58.9,-243.7 62.3,-232.7 65.7,-227.0 69.0,-217.0 72.4,-208.9 75.8,-201.4 79.1,-187.9 82.5,-183.4 85.9,-171.8 89.2,-163.3 92.6,-153.5 96.0,-146.9 99.3,-140.4 102.7,-132.7 106.1,-129.4 109.4,-122.1 112.8,-112.5 116.2,-94.7 119.5,-85.3 122.9,-75.6 126.3,-64.5 129.6,-53.3 133.0,-46.7 136.3,-41.9 139.7,-39.9 143.1,-35.4 146.4,-24.7 149.8,-16.7 153.2,-3.0 156.5,4.5 159.9,13.4 163.3,25.7 166.6,36.8 170.0,48.4 173.4,60.8 176.7,67.2 180.1,67.8 183.5,75.8 186.8,82.9 190.2,92.7 193.6,104.0 196.9,107.1 200.3,118.5 203.7,127.4 207.0,137.4 210.4,144.7 213.8,154.0 217.1,161.1 220.5,173.6 223.9,182.5 227.2,186.0 230.6,197.0 234.0,206.9 237.3,210.6 240.7,217.0 244.1,221.2 247.4,235.7 250.8,242.8 254.2,254.2 257.5,265.9 260.9,271.9 264.3,275.2 267.6,286.2 271.0,295.8 274.4,303.5 277.7,309.6 281.1,319.2 284.5,317.5 287.8,320.9 291.2,327.0 294.6,333.6 297.9,331.3 301.3,329.5 304.6,336.2 308.0,340.2 311.4,341.6 314.7,350.3 318.1,356.6 321.5,356.7 324.8,363.5 328.2,369.0 331.6,376.6 334.9,382.2 338.3,383.0 341.7,388.1 345.0,394.7 348.4,399.4 351.8,396.3 355.1,398.5 358.5,402.7 361.9,404.6 365.2,405.3 368.6,406.3 372.0,413.6 375.3,414.0 378.7,415.9 382.1,413.7 385.4,418.0 388.8,414.8 392.2,416.6 395.5,422.3 398.9,418.0 402.3,419.5 405.6,418.1 409.0,418.3 412.4,414.2 415.7,410.0 419.1,404.9 422.5,400.4 425.8,402.8 429.2,404.3 432.6,399.0 435.9,396.7 439.3,389.3 442.7,381.6 446.0,377.8 449.4,372.0 452.8,365.7 456.1,358.0 459.5,347.5 462.9,333.3 466.2,316.2 469.6,305.4 472.9,292.3 476.3,271.7 479.7,252.4 483.0,234.4"/>
<polyline points="40.6,-320.6 44.0,-312.6 47.4,-304.8 50.7,-301.4 54.1,-292.0 57.5,-284.6 60.8,-273.3 64.2,-266.1 67.6,-258.5 70.9,-247.2 74.3,-236.7 77.7,-227.7 81.0,-220.5 84.4,-207.5 87.8,-201.1 91.1,-190.6 94.5,-187.5 97.9,-182.9 101.2,-172.0 104.6,-160.5 108.0,-158.7 111.3,-151.0 114.7,-143.1 118.1,-132.0 121.4,-121.8 124.8,-114.8 128.2,-107.6 131.5,-95.6 134.9,-90.5 138.3,-82.7 141.6,-71.3 145.0,-66.2 148.4,-57.8 151.7,-52.5 155.1,-42.8 158.5,-36.1 161.8,-22.7 165.2,-16.1 168.6,-3.2 171.9,4.8 175.3,21.1 178.7,29.7 182.0,38.3 185.4,47.8 188.7,54.7 192.1,68.7 195.5,74.0 198.8,79.4 202.2,93.4 205.6,106.6 208.9,118.9 212.3,129.4 215.7,139.1 219.0,156.9 222.4,165.1 225.8,175.7 229.1,188.3 232.5,194.3 235.9,204.3 239.2,209.6 242.6,216.7 246.0,226.7 249.3,232.2 252.7,238.6 256.1,249.3 259.4,263.3 262.8,273.6 266.2,279.8 269.5,288.0 272.9,289.1 276.3,295.0 279.6,300.5 283.0,304.9 286.4,313.0 289.7,318.4 293.1,325.3 296.5,337.3 299.8,347.0 303.2,348.3 306.6,353.2 309.9,357.1 313.3,365.7 316.7,371.4 320.0,373.1 323.4,376.9 326.8,383.0 330.1,382.4 333.5,386.4 336.9,390.9 340.2,390.1 343.6,398.2 347.0,398.6 350.3,403.6 353.7,406.8 357.0,408.6 360.4,406.9 363.8,404.9 367.1,402.4 370.5,400.3 373.9,395.4 377.2,389.6 380.6,388.4 384.0,387.5 387.3,390.8 390.7,396.6 394.1,396.5 397.4,397.6 400.8,395.1 404.2,400.2 407.5,389.6 410.9,391.2 414.3,388.1 417.6,381.6 421.0,383.0 424.4,381.5 427.7,384.5 431.1,385.1 434.5,387.5 437.8,382.3 441.2,376.9 444.6,373.1 447.9,363.8 451.3,354.0 454.7,348.6 458.0,343.9 461.4,339.4 464.8,335.6 468.1,325.7 471.5,319.0 474.9,313.8 478.2,307.8 481.6,298.7 485.0,292.3"/>
<polyline points="39.4,-334.1 42.8,-321.4 46.2,-310.4 49.5,-299.1 52.9,-296.2 56.3,-288.9 59.6,-281.7 63.0,-273.9 66.4,-263.9 69.7,-253.2 73.1,-247.1 76.5,-236.4 79.8,-232.0 83.2,-223.4 86.6,-214.4 89.9,-204.7 93.3,-195.6 96.7,-186.8 100.0,-183.1 103.4,-182.1 106.8,-169.7 110.1,-162.3 113.5,-156.3 116.9,-145.1 120.2,-134.3 123.6,-124.0 127.0,-107.2 130.3,-100.7 133.7,-92.3 137.1,-83.7 140.4,-75.6 143.8,-68.4 147.2,-67.9 150.5,-60.3 153.9,-54.5 157.3,-43.8 160.6,-36.2 164.0,-26.4 167.3,-17.6 170.7,-6.2 174.1,4.9 177.4,11.5 180.8,17.4 184.2,25.4 187.5,37.5 190.9,46.2 194.3,64.1 197.6,70.7 201.0,80.5 204.4,89.7 207.7,95.7 211.1,106.4 214.5,112.5 217.8,123.1 221.2,130.9 224.6,142.0 227.9,150.2 231.3,154.4 234.7,164.9 238.0,174.9 241.4,183.9 244.8,190.4 248.1,188.9 251.5,197.5 254.9,210.8 258.2,219.3 261.6,230.5 265.0,238.7 268.3,244.8 271.7,254.0 275.1,262.0 278.4,273.4 281.8,277.9 285.2,285.6 288.5,287.7 291.9,290.2 295.3,298.9 298.6,305.9 302.0,311.3 305.4,314.6 308.7,326.1 312.1,332.2 315.5,332.2 318.8,338.3 322.2,342.5 325.6,347.5 328.9,355.6 332.3,356.0 335.6,357.1 339.0,357.6 342.4,356.5 345.7,356.1 349.1,366.0 352.5,369.4 355.8,376.0 359.2,379.0 362.6,383.0 365.9,386.8 369.3,385.1 372.7,387.3 376.0,390.9 379.4,394.6 382.8,396.7 386.1,398.0 389.5,406.2 392.9,409.3 396.2,410.1 399.6,407.8 403.0,403.3 406.3,406.1 409.7,399.6 413.1,399.2 416.4,396.8 419.8,397.8 423.2,398.7 426.5,393.0 429.9,392.5 433.3,390.8 436.6,384.8 440.0,376.2 443.4,377.6 446.7,373.9 450.1,369.3 453.5,358.1 456.8,343.4 460.2,336.0 463.6,326.5 466.9,314.4 470.3,300.2 473.7,290.2 477.0,275.6 480.4,265.1 483.8,259.8"/>
<polyline points="40.4,-348.2 43.8,-342.8 47.2,-335.1 50.5,-326.8 53.9,-313.6 57.3,-306.8 60.6,-298.2 64.0,-295.1 67.4,-286.1 70.7,-277.0 74.1,-266.1 77.5,-259.8 80.8,-249.9 84.2,-238.2 87.5,-233.9 90.9,-230.4 94.3,-220.0 97.6,-207.5 101.0,-202.0 104.4,-190.0 107.7,-189.6 111.1,-179.4 114.5,-172.7 117.8,-159.0 121.2,-149.9 124.6,-144.0 127.9,-136.0 131.3,-125.0 134.7,-123.8 138.0,-117.3 141.4,-107.6 144.8,-96.7 148.1,-86.6 151.5,-81.8 154.9,-70.3 158.2,-61.2 161.6,-49.5 165.0,-44.8 168.3,-35.0 171.7,-28.6 175.1,-20.9 178.4,-9.8 181.8,-2.9 185.2,3.2 188.5,16.2 191.9,23.7 195.3,25.1 198.6,39.1 202.0,49.7 205.4,66.3 208.7,77.0 212.1,90.7 215.5,99.6 218.8,111.3 222.2,126.3 225.6,133.1 228.9,143.9 232.3,157.2 235.7,166.6 239.0,179.4 242.4,187.7 245.8,197.0 249.1,206.8 252.5,213.4 255.8,225.9 259.2,231.0 262.6,246.4 265.9,249.9 269.3,258.3 272.7,268.1 276.0,279.5 279.4,286.4 282.8,295.2 286.1,304.0 289.5,308.6 292.9,318.3 296.2,326.6 299.6,332.3 303.0,335.6 306.3,342.9 309.7,349.0 313.1,355.1 316.4,358.8 319.8,359.7 323.2,368.1 326.5,373.4 329.9,378.0 333.3,380.1 336.6,378.8 340.0,382.0 343.4,384.4 346.7,382.9 350.1,388.3 353.5,391.7 356.8,393.3 360.2,393.1 363.6,392.2 366.9,393.7 370.3,387.8 373.7,390.2 377.0,390.7 380.4,387.2 383.8,384.6 387.1,384.2 390.5,382.0 393.9,378.2 397.2,376.8 400.6,372.6 404.0,373.2 407.3,370.3 410.7,372.6 414.1,371.8 417.4,371.8 420.8,363.5 424.1,360.5 427.5,355.3 430.9,353.7 434.2,349.7 437.6,345.5 441.0,343.3 444.3,335.1 447.7,335.3 451.1,327.6 454.4,312.7 457.8,308.7 461.2,301.9 464.5,300.2 467.9,293.4 471.3,292.1 474.6,282.6 478.0,277.0 481.4,275.6 484.7,271.6"/>
<polyline points="40.0,-324.1 43.4,-313.2 46.7,-302.5 50.1,-295.1 53.5,-286.0 56.8,-277.3 60.2,-268.4 63.6,-260.7 66.9,-250.7 70.3,-244.5 73.7,-236.8 77.0,-225.2 80.4,-223.2 83.8,-210.3 87.1,-203.9 90.5,-192.5 93.9,-185.2 97.2,-177.7 100.6,-171.1 104.0,-166.4 107.3,-153.7 110.7,-153.6 114.1,-145.0 117.4,-132.5 120.8,-118.0 124.2,-115.9 127.5,-111.5 130.9,-102.0 134.3,-95.2 137.6,-90.4 141.0,-82.3 144.4,-72.3 147.7,-63.3 151.1,-57.0 154.5,-48.4 157.8,-35.7 161.2,-29.6 164.6,-15.8 167.9,-5.4 171.3,-2.4 174.7,3.7 178.0,10.1 181.4,17.5 184.7,23.6 188.1,33.5 191.5,49.5 194.8,58.6 198.2,78.6 201.6,94.7 204.9,98.3 208.3,103.6 211.7,113.9 215.0,122.4 218.4,130.4 221.8,135.4 225.1,146.2 228.5,157.7 231.9,168.4 235.2,176.3 238.6,183.4 242.0,192.4 245.3,197.5 248.7,208.2 252.1,215.5 255.4,225.1 258.8,235.9 262.2,239.0 265.5,247.1 268.9,257.6 272.3,264.6 275.6,274.9 279.0,280.3 282.4,284.4 285.7,288.1 289.1,299.0 292.5,306.6 295.8,307.7 299.2,315.9 302.6,318.9 305.9,321.2 309.3,332.9 312.7,335.6 316.0,339.1 319.4,342.4 322.8,342.8 326.1,346.9 329.5,352.0 332.9,355.0 336.2,360.5 339.6,363.2 343.0,373.4 346.3,370.3 349.7,374.2 353.0,373.4 356.4,372.6 359.8,372.2 363.1,371.6 366.5,371.1 369.9,376.6 373.2,379.6 376.6,377.1 380.0,382.6 383.3,388.3 386.7,382.9 390.1,380.2 393.4,375.7 396.8,376.5 400.2,376.1 403.5,373.4 406.9,370.6 410.3,369.6 413.6,373.2 417.0,373.4 420.4,375.3 423.7,366.6 427.1,364.0 430.5,360.3 433.8,354.4 437.2,348.9 440.6,341.4 443.9,338.0 447.3,337.2 450.7,325.6 454.0,321.5 457.4,316.7 460.8,312.7 464.1,307.6 467.5,300.4 470.9,290.4 474.2,286.3 477.6,277.7 481.0,271.8 484.3,259.6"/>
<polyline points="39.5,-306.1 42.9,-296.5 46.3,-287.9 49.6,-281.4 53.0,-278.1 56.4,-273.2 59.7,-267.9 63.1,-265.6 66.4,-253.2 69.8,-241.1 73.2,-226.1 76.5,-221.6 79.9,-206.8 83.3,-199.5 86.6,-195.0 90.0,-183.5 93.4,-174.5 96.7,-166.5 100.1,-161.5 103.5,-148.6 106.8,-141.9 110.2,-136.0 113.6,-128.2 116.9,-120.6 120.3,-116.0 123.7,-108.1 127.0,-99.3 130.4,-89.6 133.8,-82.7 137.1,-72.6 140.5,-65.7 143.9,-56.7 147.2,-50.9 150.6,-38.7 154.0,-29.7 157.3,-21.9 160.7,-14.0 164.1,-8.8 167.4,-0.9 170.8,5.0 174.2,7.7 177.5,14.7 180.9,28.4 184.3,43.3 187.6,51.1 191.0,61.9 194.4,70.3 197.7,80.0 201.1,84.7 204.5,89.7 207.8,102.4 211.2,110.8 214.6,121.2 217.9,134.5 221.3,141.5 224.7,151.0 228.0,158.4 231.4,158.7 234.7,162.5 238.1,167.6 241.5,177.5 244.8,189.8 248.2,194.3 251.6,203.7 254.9,211.7 258.3,220.5 261.7,227.1 265.0,225.6 268.4,232.7 271.8,239.4 275.1,244.4 278.5,248.7 281.9,257.8 285.2,268.4 288.6,274.9 292.0,280.1 295.3,286.6 298.7,293.4 302.1,300.0 305.4,304.5 308.8,308.1 312.2,316.5 315.5,321.7 318.9,323.7 322.3,327.3 325.6,335.1 329.0,339.4 332.4,342.5 335.7,342.8 339.1,350.9 342.5,351.4 345.8,355.2 349.2,356.2 352.6,355.6 355.9,360.3 359.3,364.7 362.7,366.9 366.0,366.2 369.4,370.1 372.8,376.4 376.1,380.3 379.5,380.3 382.9,377.2 386.2,379.0 389.6,379.7 393.0,379.9 396.3,379.4 399.7,381.9 403.0,382.9 406.4,381.7 409.8,380.7 413.1,379.2 416.5,380.8 419.9,380.2 423.2,379.9 426.6,373.2 430.0,364.9 433.3,359.9 436.7,350.1 440.1,345.7 443.4,340.7 446.8,338.5 450.2,330.8 453.5,324.8 456.9,316.1 460.3,305.2 463.6,295.7 467.0,288.1 470.4,276.2 473.7,263.7 477.1,250.2 480.5,233.8 483.8,219.4"/>
<polyline points="39.0,-328.4 42.4,-317.2 45.8,-312.6 49.1,-305.0 52.5,-301.7 55.9,-292.6 59.2,-286.2 62.6,-281.2 66.0,-267.6 69.3,-256.0 72.7,-250.5 76.1,-243.2 79.4,-229.7 82.8,-219.7 86.2,-208.5 89.5,-198.8 92.9,-195.6 96.3,-184.8 99.6,-182.1 103.0,-172.4 106.4,-161.3 109.7,-157.3 113.1,-151.0 116.5,-145.9 119.8,-142.6 123.2,-136.5 126.6,-130.4 129.9,-115.0 133.3,-102.3 136.7,-93.5 140.0,-84.0 143.4,-76.4 146.8,-65.2 150.1,-59.5 153.5,-57.0 156.9,-50.4 160.2,-44.2 163.6,-36.7 167.0,-30.7 170.3,-22.5 173.7,-11.9 177.1,-3.5 180.4,4.9 183.8,18.3 187.2,27.1 190.5,37.3 193.9,46.4 197.2,57.6 200.6,65.3 204.0,72.3 207.3,83.9 210.7,91.9 214.1,98.5 217.4,105.1 220.8,117.0 224.2,128.5 227.5,136.7 230.9,147.9 234.3,147.2 237.6,157.1 241.0,166.5 244.4,170.9 247.7,178.7 251.1,192.5 254.5,199.0 257.8,207.9 261.2,215.5 264.6,226.0 267.9,233.9 271.3,239.6 274.7,244.6 278.0,253.0 281.4,260.3 284.8,267.9 288.1,272.4 291.5,277.7 294.9,286.9 298.2,290.1 301.6,297.5 305.0,301.3 308.3,309.2 311.7,313.0 315.1,317.8 318.4,321.5 321.8,323.4 325.2,325.6 328.5,328.7 331.9,332.0 335.3,339.9 338.6,343.9 342.0,354.9 345.4,366.2 348.7,371.2 352.1,375.7 355.5,374.1 358.8,374.5 362.2,372.6 365.5,374.7 368.9,373.9 372.3,370.7 375.6,369.5 379.0,368.4 382.4,368.0 385.7,371.0 389.1,374.2 392.5,379.0 395.8,377.5 399.2,377.5 402.6,378.7 405.9,376.2 409.3,376.2 412.7,370.7 416.0,362.0 419.4,357.8 422.8,357.2 426.1,358.8 429.5,348.5 432.9,343.5 436.2,343.3 439.6,335.7 443.0,336.5 446.3,332.2 449.7,326.8 453.1,321.7 456.4,319.2 459.8,304.4 463.2,298.3 466.5,289.6 469.9,281.5 473.3,278.7 476.6,272.2 480.0,263.0 483.4,251.1"/>
<polyline points="39.0,-314.6 42.4,-308.6 45.8,-308.0 49.1,-297.3 52.5,-286.4 55.9,-279.1 59.2,-271.0 62.6,-260.0 65.9,-250.2 69.3,-239.9 72.7,-232.6 76.0,-226.3 79.4,-222.8 82.8,-216.6 86.1,-209.3 89.5,-200.4 92.9,-194.0 96.2,-181.3 99.6,-179.1 103.0,-170.5 106.3,-165.5 109.7,-153.5 113.1,-147.8 116.4,-140.2 119.8,-131.1 123.2,-120.8 126.5,-109.8 129.9,-108.2 133.3,-105.0 136.6,-98.1 140.0,-91.3 143.4,-81.6 146.7,-68.6 150.1,-55.7 153.5,-46.7 156.8,-39.3 160.2,-29.2 163.6,-25.6 166.9,-21.0 170.3,-15.3 173.7,-2.7 177.0,5.3 180.4,13.2 183.8,25.4 187.1,42.2 190.5,45.7 193.9,53.3 197.2,64.0 200.6,68.0 204.0,73.4 207.3,80.9 210.7,89.0 214.1,95.4 217.4,99.9 220.8,108.5 224.2,118.0 227.5,124.7 230.9,142.4 234.2,150.1 237.6,159.1 241.0,166.9 244.3,174.7 247.7,180.3 251.1,186.7 254.4,192.9 257.8,199.4 261.2,204.7 264.5,213.1 267.9,216.2 271.3,227.6 274.6,232.6 278.0,236.7 281.4,246.5 284.7,253.7 288.1,254.9 291.5,260.9 294.8,269.1 298.2,284.1 301.6,288.2 304.9,293.0 308.3,296.0 311.7,294.1 315.0,298.9 318.4,303.1 321.8,309.9 325.1,314.7 328.5,320.3 331.9,323.6 335.2,327.8 338.6,337.0 342.0,345.1 345.3,346.6 348.7,355.0 352.1,356.5 355.4,353.9 358.8,354.0 362.2,355.1 365.5,352.4 368.9,353.5 372.3,356.1 375.6,358.9 379.0,357.1 382.4,356.3 385.7,352.0 389.1,353.3 392.5,354.1 395.8,355.4 399.2,353.9 402.5,355.4 405.9,351.0 409.3,348.1 412.6,348.7 416.0,355.0 419.4,356.7 422.7,347.0 426.1,341.9 429.5,335.2 432.8,329.5 436.2,319.7 439.6,317.2 442.9,315.2 446.3,313.3 449.7,307.0 453.0,299.1 456.4,292.0 459.8,286.5 463.1,284.1 466.5,273.6 469.9,266.2 473.2,257.5 476.6,248.7 480.0,240.8 483.3,233.2"/>
<polyline points="38.1,-326.9 41.5,-317.8 44.8,-308.1 48.2,-302.7 51.6,-294.5 54.9,-286.3 58.3,-279.9 61.7,-270.6 65.0,-268.7 68.4,-256.8 71.8,-252.3 75.1,-248.4 78.5,-235.8 81.9,-230.0 85.2,-222.7 88.6,-217.9 92.0,-206.2 95.3,-199.7 98.7,-188.9 102.1,-180.9 105.4,-178.9 108.8,-171.3 112.2,-156.8 115.5,-145.3 118.9,-134.6 122.3,-130.9 125.6,-121.9 129.0,-110.0 132.4,-107.2 135.7,-101.8 139.1,-96.6 142.5,-87.2 145.8,-85.2 149.2,-77.2 152.6,-63.3 155.9,-52.1 159.3,-41.5 162.7,-33.8 166.0,-29.1 169.4,-19.3 172.7,-9.8 176.1,-9.9 179.5,-2.8 182.8,6.7 186.2,14.5 189.6,27.9 192.9,36.2 196.3,42.8 199.7,54.6 203.0,61.0 206.4,71.0 209.8,78.7 213.1,89.7 216.5,100.8 219.9,114.4 223.2,121.9 226.6,130.7 230.0,139.6 233.3,150.9 236.7,162.2 240.1,171.2 243.4,176.1 246.8,181.1 250.2,189.7 253.5,194.9 256.9,196.1 260.3,203.9 263.6,206.1 267.0,214.4 270.4,220.2 273.7,232.0 277.1,237.6 280.5,250.7 283.8,257.6 287.2,265.6 290.6,278.8 293.9,289.0 297.3,290.4 300.7,293.5 304.0,293.8 307.4,297.8 310.8,312.7 314.1,316.9 317.5,323.5 320.9,330.1 324.2,336.2 327.6,342.3 331.0,348.0 334.3,345.2 337.7,344.4 341.0,347.3 344.4,349.5 347.8,346.8 351.1,345.8 354.5,344.9 357.9,348.7 361.2,349.7 364.6,352.6 368.0,358.7 371.3,355.6 374.7,357.1 378.1,358.9 381.4,362.7 384.8,360.3 388.2,352.9 391.5,350.3 394.9,346.1 398.3,349.5 401.6,347.7 405.0,345.5 408.4,338.8 411.7,337.0 415.1,337.8 418.5,334.6 421.8,331.7 425.2,322.2 428.6,315.2 431.9,309.0 435.3,302.8 438.7,294.0 442.0,289.1 445.4,285.5 448.8,284.6 452.1,272.9 455.5,262.5 458.9,251.0 462.2,241.0 465.6,225.0 469.0,217.2 472.3,201.7 475.7,192.8 479.1,182.5 482.4,173.9 485.8,160.4"/>
<polyline points="37.9,-342.8 41.2,-337.4 44.6,-324.6 48.0,-315.1 51.3,-308.5 54.7,-301.9 58.1,-296.2 61.4,-288.3 64.8,-280.0 68.2,-274.0 71.5,-269.7 74.9,-257.3 78.3,-248.8 81.6,-241.0 85.0,-234.5 88.4,-231.1 91.7,-219.9 95.1,-214.9 98.5,-202.8 101.8,-194.5 105.2,-186.7 108.6,-179.6 111.9,-171.1 115.3,-162.3 118.7,-154.4 122.0,-146.6 125.4,-133.5 128.8,-121.5 132.1,-112.6 135.5,-106.9 138.9,-102.9 142.2,-105.0 145.6,-98.0 149.0,-88.2 152.3,-81.3 155.7,-76.2 159.1,-69.0 162.4,-57.6 165.8,-49.4 169.2,-41.4 172.5,-29.6 175.9,-18.2 179.3,-14.9 182.6,0.4 186.0,7.7 189.3,16.5 192.7,20.0 196.1,28.0 199.4,41.7 202.8,48.6 206.2,61.9 209.5,66.4 212.9,72.5 216.3,84.6 219.6,93.9 223.0,104.8 226.4,119.1 229.7,126.9 233.1,136.4 236.5,144.5 239.8,151.6 243.2,157.2 246.6,164.3 249.9,174.8 253.3,184.4 256.7,192.9 260.0,202.8 263.4,212.8 266.8,215.5 270.1,222.4 273.5,224.6 276.9,235.8 280.2,244.3 283.6,254.1 287.0,263.8 290.3,273.2 293.7,281.7 297.1,290.7 300.4,291.3 303.8,294.5 307.2,302.4 310.5,308.4 313.9,309.8 317.3,311.8 320.6,317.5 324.0,317.9 327.4,325.9 330.7,330.0 334.1,326.1 337.5,336.7 340.8,339.0 344.2,336.8 347.6,337.9 350.9,340.8 354.3,343.2 357.6,349.4 361.0,352.8 364.4,350.5 367.7,350.5 371.1,348.4 374.5,346.6 377.8,343.4 381.2,346.7 384.6,344.9 387.9,343.6 391.3,342.6 394.7,343.7 398.0,349.7 401.4,346.1 404.8,341.7 408.1,331.4 411.5,325.9 414.9,316.9 418.2,311.1 421.6,308.3 425.0,302.5 428.3,302.7 431.7,297.7 435.1,293.2 438.4,290.9 441.8,280.7 445.2,270.3 448.5,261.5 451.9,251.5 455.3,238.4 458.6,231.6 462.0,228.6 465.4,224.0 468.7,213.8 472.1,204.8 475.5,201.0 478.8,187.5 482.2,177.2 485.6,161.8"/>
<polyline points="38.8,-330.5 42.2,-326.5 45.5,-314.8 48.9,-304.3 52.3,-297.1 55.6,-290.5 59.0,-282.8 62.4,-269.4 65.7,-257.9 69.1,-252.7 72.5,-247.5 75.8,-236.6 79.2,-229.9 82.6,-223.1 85.9,-219.0 89.3,-208.6 92.7,-205.6 96.0,-196.5 99.4,-193.2 102.8,-188.2 106.1,-176.7 109.5,-167.7 112.9,-160.7 116.2,-156.7 119.6,-144.2 123.0,-134.9 126.3,-129.3 129.7,-124.1 133.1,-113.6 136.4,-103.2 139.8,-97.0 143.2,-85.7 146.5,-79.2 149.9,-74.5 153.2,-66.6 156.6,-49.4 160.0,-45.5 163.3,-41.3 166.7,-37.9 170.1,-32.4 173.4,-17.9 176.8,-14.1 180.2,-7.1 183.5,-2.0 186.9,7.3 190.3,16.8 193.6,27.4 197.0,32.0 200.4,40.9 203.7,51.7 207.1,65.8 210.5,73.9 213.8,83.5 217.2,92.5 220.6,98.5 223.9,105.5 227.3,114.8 230.7,122.9 234.0,131.4 237.4,137.8 240.8,143.5 244.1,150.8 247.5,161.5 250.9,165.8 254.2,169.5 257.6,180.1 261.0,185.4 264.3,193.1 267.7,206.7 271.1,213.0 274.4,215.9 277.8,224.6 281.2,232.7 284.5,234.7 287.9,243.9 291.3,252.1 294.6,257.8 298.0,260.8 301.4,263.6 304.7,270.5 308.1,276.8 311.5,281.5 314.8,287.6 318.2,295.3 321.5,304.0 324.9,306.5 328.3,311.9 331.6,306.5 335.0,308.8 338.4,316.1 341.7,320.6 345.1,323.7 348.5,326.8 351.8,330.1 355.2,333.3 358.6,338.8 361.9,340.8 365.3,337.1 368.7,342.2 372.0,346.5 375.4,346.3 378.8,343.9 382.1,342.2 385.5,339.1 388.9,340.3 392.2,341.8 395.6,340.0 399.0,338.3 402.3,333.4 405.7,328.5 409.1,334.7 412.4,331.6 415.8,332.4 419.2,337.4 422.5,333.4 425.9,330.6 429.3,327.6 432.6,326.9 436.0,324.0 439.4,317.9 442.7,315.4 446.1,307.8 449.5,299.2 452.8,290.7 456.2,280.0 459.6,270.0 462.9,263.2 466.3,255.5 469.7,243.2 473.0,227.7 476.4,214.2 479.8,202.2 483.1,187.3"/>
<polyline points="38.2,-363.9 41.5,-354.3 44.9,-346.1 48.3,-333.7 51.6,-329.7 55.0,-324.3 58.3,-318.4 61.7,-312.5 65.1,-305.9 68.4,-298.5 71.8,-291.0 75.2,-286.8 78.5,-275.7 81.9,-264.3 85.3,-257.0 88.6,-253.9 92.0,-247.8 95.4,-240.2 98.7,-235.8 102.1,-229.1 105.5,-215.7 108.8,-205.3 112.2,-191.5 115.6,-184.3 118.9,-176.7 122.3,-172.2 125.7,-173.5 129.0,-166.0 132.4,-160.4 135.8,-153.1 139.1,-137.5 142.5,-128.6 145.9,-119.9 149.2,-114.3 152.6,-104.8 156.0,-94.3 159.3,-90.0 162.7,-83.4 166.1,-73.8 169.4,-63.9 172.8,-55.6 176.2,-50.9 179.5,-48.5 182.9,-36.7 186.3,-33.3 189.6,-25.9 193.0,-19.1 196.4,-14.2 199.7,-2.3 203.1,3.3 206.5,16.5 209.8,27.3 213.2,42.1 216.6,47.7 219.9,53.3 223.3,61.7 226.6,70.9 230.0,83.5 233.4,88.1 236.7,94.3 240.1,102.3 243.5,114.2 246.8,126.5 250.2,137.4 253.6,143.5 256.9,157.2 260.3,167.2 263.7,171.4 267.0,177.4 270.4,180.3 273.8,187.4 277.1,194.2 280.5,197.8 283.9,203.2 287.2,209.5 290.6,218.4 294.0,230.3 297.3,231.9 300.7,239.7 304.1,248.7 307.4,252.1 310.8,261.2 314.2,271.7 317.5,279.1 320.9,284.8 324.3,289.5 327.6,293.2 331.0,295.3 334.4,300.8 337.7,304.3 341.1,309.3 344.5,316.4 347.8,319.7 351.2,322.9 354.6,320.9 357.9,323.2 361.3,329.9 364.7,331.9 368.0,335.9 371.4,332.9 374.8,340.3 378.1,343.7 381.5,346.4 384.9,346.1 388.2,346.5 391.6,351.9 394.9,358.3 398.3,357.3 401.7,350.3 405.0,342.1 408.4,339.3 411.8,332.9 415.1,330.8 418.5,330.9 421.9,322.4 425.2,316.1 428.6,313.0 432.0,309.6 435.3,301.0 438.7,293.7 442.1,288.4 445.4,280.9 448.8,274.3 452.2,268.2 455.5,262.5 458.9,250.4 462.3,242.6 465.6,236.5 469.0,219.6 472.4,204.1 475.7,190.4 479.1,178.2 482.5,164.6 485.8,156.2"/>
<polyline points="40.7,-349.1 44.1,-340.2 47.5,-338.2 50.8,-326.6 54.2,-321.5 57.6,-314.9 60.9,-310.7 64.3,-298.9 67.6,-288.5 71.0,-279.1 74.4,-272.4 77.7,-266.2 81.1,-259.3 84.5,-251.8 87.8,-242.7 91.2,-231.7 94.6,-223.6 97.9,-218.6 101.3,-215.4 104.7,-207.0 108.0,-203.8 111.4,-192.5 114.8,-188.2 118.1,-177.4 121.5,-170.8 124.9,-160.0 128.2,-149.1 131.6,-140.1 135.0,-137.7 138.3,-128.3 141.7,-123.1 145.1,-116.5 148.4,-110.3 151.8,-104.1 155.2,-98.9 158.5,-87.3 161.9,-79.7 165.3,-73.2 168.6,-63.6 172.0,-57.3 175.4,-46.3 178.7,-41.7 182.1,-32.2 185.5,-23.9 188.8,-19.3 192.2,-15.4 195.6,-5.9 198.9,4.1 202.3,8.0 205.7,25.1 209.0,30.1 212.4,35.6 215.8,49.0 219.1,54.4 222.5,61.8 225.9,68.8 229.2,85.1 232.6,94.9 235.9,104.2 239.3,113.8 242.7,123.2 246.0,132.6 249.4,150.3 252.8,159.1 256.1,169.2 259.5,177.3 262.9,186.2 266.2,193.4 269.6,199.1 273.0,199.6 276.3,208.8 279.7,209.6 283.1,216.5 286.4,225.8 289.8,236.7 293.2,239.9 296.5,251.1 299.9,253.8 303.3,258.0 306.6,265.2 310.0,272.4 313.4,275.6 316.7,279.7 320.1,281.8 323.5,286.0 326.8,291.6 330.2,293.6 333.6,301.3 336.9,301.8 340.3,304.8 343.7,311.8 347.0,318.2 350.4,321.6 353.8,329.3 357.1,325.5 360.5,322.9 363.9,327.1 367.2,326.9 370.6,320.2 374.0,318.2 377.3,321.1 380.7,328.0 384.1,333.6 387.4,329.8 390.8,328.7 394.2,333.6 397.5,332.0 400.9,334.1 404.2,337.0 407.6,339.9 411.0,343.1 414.3,338.6 417.7,342.2 421.1,342.4 424.4,336.1 427.8,327.8 431.2,326.9 434.5,315.2 437.9,306.2 441.3,305.6 444.6,293.0 448.0,291.4 451.4,281.9 454.7,277.9 458.1,275.5 461.5,263.8 464.8,252.9 468.2,243.0 471.6,232.0 474.9,221.3 478.3,210.9 481.7,202.8 485.0,188.7"/>
<polyline points="38.4,-341.6 41.8,-335.1 45.2,-337.0 48.5,-326.1 51.9,-321.7 55.3,-315.5 58.6,-303.3 62.0,-293.6 65.4,-289.1 68.7,-276.7 72.1,-268.7 75.5,-265.1 78.8,-256.8 82.2,-250.4 85.6,-240.7 88.9,-230.5 92.3,-220.3 95.7,-211.2 99.0,-205.3 102.4,-197.6 105.8,-196.6 109.1,-190.3 112.5,-183.0 115.9,-182.4 119.2,-173.6 122.6,-162.2 126.0,-153.8 129.3,-141.2 132.7,-134.4 136.1,-130.6 139.4,-124.4 142.8,-114.6 146.2,-106.1 149.5,-99.8 152.9,-95.8 156.2,-86.2 159.6,-76.3 163.0,-71.8 166.3,-64.5 169.7,-57.7 173.1,-50.8 176.4,-39.6 179.8,-30.7 183.2,-25.8 186.5,-16.6 189.9,-7.0 193.3,0.2 196.6,7.4 200.0,7.1 203.4,18.6 206.7,30.4 210.1,36.1 213.5,48.4 216.8,59.5 220.2,76.8 223.6,85.6 226.9,94.2 230.3,102.3 233.7,113.2 237.0,122.0 240.4,131.8 243.8,138.3 247.1,147.9 250.5,154.6 253.9,168.3 257.2,177.9 260.6,195.7 264.0,204.0 267.3,208.4 270.7,216.1 274.1,214.7 277.4,224.6 280.8,232.1 284.2,241.4 287.5,249.0 290.9,257.0 294.3,268.2 297.6,277.1 301.0,275.4 304.4,280.9 307.7,282.4 311.1,291.5 314.5,296.3 317.8,298.1 321.2,302.1 324.5,307.1 327.9,310.9 331.3,313.1 334.6,311.8 338.0,308.6 341.4,313.6 344.7,319.8 348.1,319.3 351.5,318.7 354.8,316.4 358.2,313.4 361.6,316.7 364.9,310.7 368.3,310.6 371.7,317.6 375.0,315.4 378.4,315.2 381.8,314.6 385.1,319.8 388.5,320.4 391.9,319.9 395.2,320.3 398.6,317.8 402.0,313.8 405.3,308.1 408.7,302.8 412.1,301.5 415.4,293.2 418.8,289.5 422.2,282.9 425.5,279.3 428.9,279.4 432.3,282.0 435.6,275.4 439.0,271.2 442.4,264.2 445.7,253.4 449.1,250.5 452.5,248.2 455.8,238.8 459.2,229.2 462.6,222.0 465.9,215.4 469.3,212.5 472.7,204.1 476.0,197.6 479.4,187.1 482.8,175.0"/>
<polyline points="40.7,-344.7 44.1,-334.4 47.5,-327.6 50.8,-314.6 54.2,-305.6 57.6,-292.6 60.9,-289.6 64.3,-284.9 67.7,-273.8 71.0,-267.7 74.4,-263.1 77.8,-261.8 81.1,-257.0 84.5,-249.8 87.9,-241.2 91.2,-235.4 94.6,-228.5 98.0,-218.7 101.3,-206.3 104.7,-202.3 108.1,-192.8 111.4,-185.2 114.8,-181.4 118.2,-174.7 121.5,-172.6 124.9,-162.3 128.3,-158.8 131.6,-147.7 135.0,-136.2 138.4,-126.2 141.7,-120.2 145.1,-111.4 148.4,-100.2 151.8,-98.1 155.2,-88.2 158.5,-81.7 161.9,-76.2 165.3,-68.0 168.6,-62.4 172.0,-57.8 175.4,-50.7 178.7,-47.1 182.1,-37.9 185.5,-27.5 188.8,-21.6 192.2,-11.6 195.6,-6.1 198.9,0.8 202.3,8.7 205.7,13.0 209.0,18.5 212.4,36.8 215.8,45.5 219.1,52.3 222.5,57.5 225.9,66.0 229.2,76.7 232.6,82.6 236.0,86.4 239.3,99.4 242.7,111.0 246.1,119.5 249.4,135.2 252.8,143.6 256.2,147.2 259.5,157.7 262.9,163.6 266.3,173.3 269.6,178.4 273.0,183.0 276.4,185.7 279.7,193.4 283.1,197.4 286.5,203.5 289.8,212.6 293.2,214.7 296.6,223.8 299.9,229.9 303.3,227.6 306.7,230.8 310.0,240.7 313.4,248.1 316.7,260.9 320.1,273.2 323.5,288.4 326.8,293.4 330.2,299.6 333.6,295.5 336.9,291.0 340.3,286.5 343.7,278.6 347.0,285.6 350.4,291.3 353.8,296.5 357.1,299.7 360.5,297.7 363.9,299.8 367.2,302.4 370.6,306.1 374.0,306.9 377.3,307.4 380.7,307.0 384.1,311.2 387.4,310.4 390.8,307.2 394.2,304.6 397.5,307.5 400.9,303.6 404.3,300.0 407.6,298.3 411.0,302.0 414.4,306.7 417.7,305.5 421.1,307.8 424.5,310.7 427.8,305.5 431.2,300.0 434.6,294.9 437.9,287.1 441.3,280.5 444.7,280.8 448.0,272.3 451.4,267.0 454.8,259.9 458.1,248.0 461.5,239.3 464.9,225.8 468.2,216.7 471.6,208.3 475.0,200.7 478.3,190.2 481.7,184.4 485.0,172.1"/>
<polyline points="37.9,-325.5 44.6,-309.8 51.3,-297.0 58.0,-288.2 64.8,-277.1 71.5,-257.1 78.2,-241.6 85.0,-225.8 91.7,-208.7 98.4,-195.7 105.2,-186.2 111.9,-168.6 118.6,-155.9 125.4,-143.9 132.1,-122.6 138.8,-112.0 145.6,-100.5 152.3,-84.1 159.0,-73.8 165.8,-57.6 172.5,-45.5 179.2,-32.4 186.0,-14.5 192.7,-1.7 199.4,12.2 206.2,29.4 212.9,48.5 219.6,66.3 226.3,84.8 233.1,94.0 239.8,114.3 246.5,127.0 253.3,142.5 260.0,160.2 266.7,169.9 273.5,185.4 280.2,193.3 286.9,206.3 293.7,217.1 300.4,228.5 307.1,237.1 313.9,242.5 320.6,251.9 327.3,257.6 334.1,255.3 340.8,259.4 347.5,253.3 354.3,253.2 361.0,252.1 367.7,254.5 374.5,255.7 381.2,263.9 387.9,271.5 394.6,275.8 401.4,280.7 408.1,282.9 414.8,284.0 421.6,281.1 428.3,278.1 435.0,272.9 441.8,255.6 448.5,243.1 455.2,233.6 462.0,217.6 468.7,197.9 475.4,183.8 482.2,166.3"/>
<polyline points="39.4,-337.7 46.2,-322.1 52.9,-310.2 59.6,-295.7 66.4,-284.2 73.1,-272.0 79.8,-252.7 86.6,-240.6 93.3,-223.2 100.0,-208.1 106.8,-189.7 113.5,-179.1 120.2,-164.6 126.9,-150.1 133.7,-140.8 140.4,-129.1 147.1,-114.5 153.9,-92.8 160.6,-81.0 167.3,-66.5 174.1,-51.5 180.8,-40.1 187.5,-23.3 194.3,-8.1 201.0,4.2 207.7,18.5 214.5,45.2 221.2,65.2 227.9,85.8 234.7,102.8 241.4,125.6 248.1,146.8 254.9,163.4 261.6,180.4 268.3,196.3 275.1,211.8 281.8,225.9 288.5,238.3 295.2,249.1 302.0,256.9 308.7,268.4 315.4,282.9 322.2,290.0 328.9,288.3 335.6,283.8 342.4,291.1 349.1,294.6 355.8,292.2 362.6,291.2 369.3,290.1 376.0,289.6 382.8,288.1 389.5,290.0 396.2,283.5 403.0,284.1 409.7,280.6 416.4,269.7 423.2,259.6 429.9,251.7 436.6,243.6 443.4,236.3 450.1,227.0 456.8,215.2 463.5,196.5 470.3,182.7 477.0,164.3 483.7,145.1"/>
<polyline points="41.0,-347.1 47.7,-333.4 54.4,-314.8 61.2,-303.1 67.9,-291.1 74.6,-279.7 81.4,-268.4 88.1,-246.0 94.8,-232.3 101.6,-215.5 108.3,-203.5 115.0,-191.7 121.7,-178.6 128.5,-162.2 135.2,-156.5 141.9,-140.2 148.7,-120.4 155.4,-107.6 162.1,-85.7 168.9,-76.9 175.6,-65.3 182.3,-54.6 189.1,-43.1 195.8,-28.8 202.5,-8.9 209.3,7.7 216.0,19.3 222.7,44.2 229.5,66.2 236.2,91.6 242.9,116.2 249.7,135.0 256.4,152.1 263.1,170.2 269.9,190.5 276.6,212.2 283.3,219.7 290.0,236.5 296.8,251.3 303.5,264.5 310.2,270.5 317.0,279.8 323.7,282.1 330.4,282.2 337.2,285.8 343.9,284.2 350.6,287.5 357.4,286.3 364.1,280.6 370.8,278.2 377.6,276.5 384.3,271.8 391.0,265.2 397.8,254.0 404.5,250.0 411.2,245.7 418.0,236.4 424.7,230.6 431.4,222.3 438.2,212.3 444.9,203.2 451.6,194.3 458.3,182.3 465.1,167.9 471.8,154.0 478.5,140.8 485.3,131.0"/>
<polyline points="42.8,-359.3 49.5,-349.2 56.2,-331.8 62.9,-318.6 69.7,-304.7 76.4,-293.7 83.1,-275.7 89.9,-262.0 96.6,-247.7 103.3,-235.3 110.1,-225.8 116.8,-211.4 123.5,-196.4 130.3,-185.9 137.0,-168.2 143.7,-157.4 150.5,-142.1 157.2,-125.6 163.9,-108.0 170.7,-89.1 177.4,-79.3 184.1,-69.5 190.9,-56.8 197.6,-46.5 204.3,-31.7 211.1,-14.7 217.8,3.6 224.5,15.2 231.2,28.8 238.0,43.7 244.7,65.9 251.4,86.2 258.2,109.4 264.9,122.6 271.6,136.1 278.4,150.3 285.1,165.5 291.8,181.1 298.6,195.7 305.3,201.8 312.0,210.4 318.8,211.6 325.5,216.9 332.2,230.4 339.0,247.4 345.7,261.4 352.4,269.1 359.2,277.1 365.9,274.3 372.6,269.1 379.4,266.9 386.1,272.6 392.8,281.3 399.5,278.1 406.3,271.3 413.0,269.5 419.7,261.0 426.5,251.6 433.2,238.8 439.9,217.1 446.7,203.4 453.4,186.8 460.1,167.5 466.9,151.3 473.6,121.1 480.3,96.0"/>
<polyline points="40.6,-335.8 47.3,-315.0 54.1,-308.2 60.8,-296.3 67.5,-278.4 74.2,-263.6 81.0,-252.9 87.7,-233.4 94.4,-227.5 101.2,-212.5 107.9,-196.5 114.6,-186.7 121.4,-172.0 128.1,-154.1 134.8,-143.6 141.6,-131.0 148.3,-121.5 155.0,-105.5 161.8,-88.6 168.5,-78.3 175.2,-64.5 182.0,-44.4 188.7,-29.8 195.4,-19.3 202.2,-4.7 208.9,2.3 215.6,16.9 222.4,33.0 229.1,54.1 235.8,72.5 242.5,86.8 249.3,98.0 256.0,110.1 262.7,118.8 269.5,139.0 276.2,150.2 282.9,160.7 289.7,172.9 296.4,179.7 303.1,188.6 309.9,193.8 316.6,203.2 323.3,212.2 330.1,227.4 336.8,234.5 343.5,243.4 350.3,245.3 357.0,251.8 363.7,258.1 370.5,259.6 377.2,260.5 383.9,261.6 390.7,258.5 397.4,256.3 404.1,256.3 410.8,257.6 417.6,263.4 424.3,267.2 431.0,275.1 437.8,266.8 444.5,257.0 451.2,240.1 458.0,227.4 464.7,205.2 471.4,179.3 478.2,144.5 484.9,105.0"/>
<polyline points="38.9,-327.8 45.6,-318.2 52.3,-295.2 59.0,-279.7 65.8,-270.9 72.5,-254.6 79.2,-247.4 86.0,-233.7 92.7,-214.1 99.4,-202.0 106.2,-194.9 112.9,-178.9 119.6,-167.2 126.4,-149.6 133.1,-133.2 139.8,-119.3 146.6,-106.9 153.3,-95.0 160.0,-82.0 166.8,-76.8 173.5,-59.3 180.2,-38.4 187.0,-26.9 193.7,-14.7 200.4,2.7 207.2,9.1 213.9,29.3 220.6,53.4 227.3,69.5 234.1,84.7 240.8,92.0 247.5,113.3 254.3,133.3 261.0,148.1 267.7,162.4 274.5,173.8 281.2,187.9 287.9,204.6 294.7,216.6 301.4,223.9 308.1,229.7 314.9,239.4 321.6,240.9 328.3,236.1 335.1,235.7 341.8,247.6 348.5,260.3 355.3,255.0 362.0,255.8 368.7,259.2 375.5,259.5 382.2,261.2 388.9,253.6 395.6,255.1 402.4,250.7 409.1,241.0 415.8,236.3 422.6,230.6 429.3,219.5 436.0,214.8 442.8,202.0 449.5,193.5 456.2,184.8 463.0,168.1 469.7,155.9 476.4,141.0 483.2,121.9"/>
<polyline points="39.3,-344.2 46.0,-332.4 52.7,-320.4 59.5,-305.2 66.2,-294.6 72.9,-277.9 79.7,-267.3 86.4,-258.4 93.1,-242.6 99.9,-225.7 106.6,-208.4 113.3,-193.5 120.1,-180.5 126.8,-169.3 133.5,-162.0 140.3,-153.0 147.0,-138.7 153.7,-122.2 160.5,-103.1 167.2,-92.4 173.9,-82.3 180.7,-69.4 187.4,-56.6 194.1,-43.6 200.8,-22.0 207.6,-10.2 214.3,0.6 221.0,13.8 227.8,36.2 234.5,59.0 241.2,79.4 248.0,93.3 254.7,109.3 261.4,127.0 268.2,147.5 274.9,173.6 281.6,194.5 288.4,214.8 295.1,225.4 301.8,228.7 308.6,231.7 315.3,234.7 322.0,241.3 328.8,242.9 335.5,245.2 342.2,251.6 349.0,248.6 355.7,245.9 362.4,249.9 369.1,249.2 375.9,257.1 382.6,257.7 389.3,251.5 396.1,251.8 402.8,244.2 409.5,240.4 416.3,238.1 423.0,236.9 429.7,224.9 436.5,211.1 443.2,205.5 449.9,195.0 456.7,173.5 463.4,148.4 470.1,111.8 476.9,83.1 483.6,50.2"/>
<polyline points="39.6,-359.4 46.3,-350.3 53.0,-340.9 59.8,-328.6 66.5,-313.0 73.2,-300.1 79.9,-286.0 86.7,-272.4 93.4,-259.9 100.1,-253.0 106.9,-234.4 113.6,-219.7 120.3,-201.3 127.1,-190.4 133.8,-180.9 140.5,-171.8 147.3,-156.0 154.0,-141.2 160.7,-129.4 167.5,-115.9 174.2,-103.1 180.9,-90.5 187.7,-78.4 194.4,-65.7 201.1,-55.2 207.9,-37.8 214.6,-24.3 221.3,-6.6 228.1,6.2 234.8,21.3 241.5,40.6 248.2,59.9 255.0,87.6 261.7,112.3 268.4,132.1 275.2,146.4 281.9,161.6 288.6,177.5 295.4,194.1 302.1,210.2 308.8,220.0 315.6,226.6 322.3,231.8 329.0,236.1 335.8,240.9 342.5,242.0 349.2,241.0 356.0,243.1 362.7,240.0 369.4,244.4 376.2,245.5 382.9,243.9 389.6,240.7 396.4,239.7 403.1,233.3 409.8,231.7 416.5,227.8 423.3,214.6 430.0,206.6 436.7,192.0 443.5,180.4 450.2,157.3 456.9,133.9 463.7,113.5 470.4,93.8 477.1,64.7 483.9,32.5"/>
<polyline points="38.3,-354.8 45.0,-341.5 51.8,-325.5 58.5,-312.6 65.2,-299.9 72.0,-287.5 78.7,-275.0 85.4,-259.9 92.2,-250.8 98.9,-236.9 105.6,-221.6 112.4,-211.4 119.1,-193.2 125.8,-179.2 132.5,-171.0 139.3,-157.4 146.0,-149.5 152.7,-135.0 159.5,-119.7 166.2,-106.1 172.9,-90.7 179.7,-76.9 186.4,-62.9 193.1,-52.1 199.9,-39.7 206.6,-24.2 213.3,-7.0 220.1,-5.0 226.8,10.2 233.5,24.4 240.3,53.8 247.0,80.6 253.7,97.0 260.5,121.1 267.2,143.5 273.9,162.2 280.7,183.1 287.4,201.0 294.1,216.1 300.8,226.1 307.6,234.7 314.3,239.3 321.0,237.1 327.8,231.7 334.5,232.8 341.2,239.5 348.0,242.9 354.7,238.6 361.4,240.1 368.2,244.3 374.9,248.4 381.6,240.4 388.4,235.0 395.1,231.3 401.8,229.2 408.6,227.6 415.3,209.4 422.0,200.1 428.8,187.7 435.5,175.4 442.2,156.8 449.0,144.1 455.7,133.0 462.4,114.9 469.1,91.6 475.9,58.7 482.6,33.2"/>
<polyline points="40.0,-340.8 43.4,-336.3 46.8,-327.3 50.1,-320.3 53.5,-316.2 56.9,-314.6 60.2,-305.3 63.6,-293.3 67.0,-286.1 70.3,-282.8 73.7,-273.4 77.1,-274.1 80.4,-258.5 83.8,-256.0 87.2,-252.3 90.5,-248.2 93.9,-236.5 97.3,-233.3 100.6,-229.7 104.0,-226.6 107.4,-218.3 110.7,-209.5 114.1,-207.2 117.5,-201.5 120.8,-193.0 124.2,-182.5 127.6,-176.8 130.9,-165.3 134.3,-161.3 137.7,-155.9 141.0,-144.0 144.4,-139.8 147.7,-138.6 151.1,-133.9 154.5,-122.7 157.8,-114.0 161.2,-110.4 164.6,-99.1 167.9,-91.7 171.3,-89.8 174.7,-82.9 178.0,-75.2 181.4,-72.7 184.8,-73.5 188.1,-69.6 191.5,-59.3 194.9,-47.6 198.2,-41.0 201.6,-28.7 205.0,-22.5 208.3,-19.5 211.7,-2.9 215.1,3.6 218.4,7.9 221.8,15.5 225.2,20.1 228.5,24.6 231.9,30.4 235.3,29.7 238.6,37.5 242.0,50.2 245.4,62.6 248.7,74.7 252.1,78.6 255.5,83.1 258.8,87.0 262.2,92.6 265.6,93.2 268.9,97.0 272.3,103.0 275.7,116.5 279.0,128.7 282.4,143.6 285.8,155.1 289.1,162.9 292.5,174.6 295.9,183.2 299.2,180.9 302.6,186.1 306.0,196.5 309.3,205.7 312.7,211.0 316.0,212.7 319.4,217.6 322.8,218.9 326.1,222.1 329.5,230.0 332.9,229.4 336.2,234.4 339.6,230.3 343.0,235.2 346.3,237.1 349.7,240.6 353.1,242.9 356.4,242.2 359.8,244.7 363.2,242.0 366.5,242.4 369.9,237.9 373.3,239.4 376.6,236.2 380.0,233.6 383.4,236.0 386.7,228.0 390.1,223.6 393.5,222.8 396.8,224.7 400.2,226.0 403.6,227.8 406.9,227.3 410.3,232.2 413.7,232.2 417.0,234.0 420.4,226.1 423.8,221.2 427.1,212.8 430.5,201.4 433.9,196.7 437.2,185.7 440.6,180.5 444.0,173.7 447.3,172.2 450.7,166.2 454.1,154.6 457.4,145.7 460.8,139.0 464.2,130.1 467.5,123.1 470.9,115.2 474.3,109.4 477.6,93.6 481.0,77.2 484.3,64.4"/>
<polyline points="37.7,-328.2 44.5,-322.3 51.2,-308.3 57.9,-293.1 64.7,-278.0 71.4,-273.1 78.1,-263.1 84.9,-247.7 91.6,-234.9 98.3,-218.7 105.1,-207.6 111.8,-192.2 118.5,-176.2 125.3,-164.1 132.0,-156.4 138.7,-147.1 145.5,-137.2 152.2,-124.2 158.9,-101.2 165.7,-87.0 172.4,-73.8 179.1,-63.8 185.9,-58.6 192.6,-48.2 199.3,-28.2 206.0,-15.6 212.8,-2.7 219.5,5.6 226.2,17.3 233.0,41.9 239.7,61.8 246.4,79.2 253.2,102.1 259.9,116.6 266.6,131.5 273.4,140.8 280.1,154.2 286.8,169.1 293.6,180.1 300.3,190.8 307.0,196.6 313.8,208.9 320.5,226.9 327.2,224.6 334.0,228.3 340.7,231.4 347.4,223.6 354.2,228.2 360.9,230.2 367.6,231.6 374.3,231.5 381.1,234.4 387.8,229.8 394.5,226.1 401.3,212.6 408.0,200.0 414.7,194.4 421.5,182.0 428.2,172.8 434.9,157.1 441.7,139.3 448.4,111.5 455.1,92.4 461.9,77.6 468.6,54.7 475.3,35.1 482.1,1.4"/>
<polyline points="42.6,-353.1 49.4,-341.3 56.1,-325.0 62.8,-308.7 69.5,-301.3 76.3,-292.5 83.0,-281.9 89.7,-275.5 96.5,-254.9 103.2,-242.6 109.9,-229.1 116.7,-210.2 123.4,-201.1 130.1,-192.2 136.9,-182.0 143.6,-163.5 150.3,-150.1 157.1,-137.9 163.8,-124.2 170.5,-111.4 177.3,-98.7 184.0,-89.3 190.7,-75.0 197.5,-70.1 204.2,-55.9 210.9,-41.7 217.7,-31.0 224.4,-17.8 231.1,-3.9 237.8,4.2 244.6,27.3 251.3,53.3 258.0,63.5 264.8,78.0 271.5,91.8 278.2,106.2 285.0,121.2 291.7,139.5 298.4,154.0 305.2,170.4 311.9,177.1 318.6,184.2 325.4,192.8 332.1,199.9 338.8,208.1 345.6,218.3 352.3,215.2 359.0,214.5 365.8,217.2 372.5,217.3 379.2,215.1 386.0,213.2 392.7,213.4 399.4,213.4 406.1,216.8 412.9,213.1 419.6,206.3 426.3,196.0 433.1,189.0 439.8,167.7 446.5,144.3 453.3,125.3 460.0,117.9 466.7,102.9 473.5,76.1 480.2,51.9"/>
<polyline points="172.1,-51.1 205.8,19.3 249.6,98.5 285.9,136.3 300.4,150.4 320.9,176.8 333.0,176.8 347.5,174.2 357.6,175.1 363.7,165.4 371.7,173.3 382.2,168.9 390.3,176.8 402.4,183.0 414.8,181.2 431.0,168.9 443.4,156.6 455.6,140.7 464.0,130.2 475.1,107.3 485.2,80.9"/>
</g>
<polyline points="118.2,19.3 120.7,26.7 123.6,39.3 127.5,42.2 130.4,50.0 134.3,55.9 136.3,62.7 137.2,70.4 140.2,71.4 143.0,72.4 146.0,79.2 148.9,88.9 151.8,102.5 153.8,99.6 155.7,95.7 156.7,102.5 159.7,115.6 163.6,125.3 167.5,135.0 171.4,141.8 175.3,147.7 178.2,146.3 180.2,150.6 183.3,161.1 186.6,163.3 188.8,162.2 191.0,168.8 194.4,179.9 199.9,190.9 204.3,198.7 208.7,204.2 213.1,215.2 216.5,228.5 219.8,239.6 224.2,248.4 227.5,257.2 231.9,270.5 235.2,266.1 238.6,268.3 240.8,274.9 241.5,287.9 243.1,291.8 245.5,298.9 248.6,310.0 253.4,319.5 259.7,327.4 264.4,335.3 270.0,346.3 275.5,355.8 280.2,365.3 283.4,370.8 288.1,374.7 291.3,380.0 297.2,389.9 300.2,391.8 304.0,400.6 309.9,412.3 316.7,420.0 322.5,426.8 328.4,432.1 331.3,429.8 334.2,428.8 340.0,432.7 347.0,439.7 354.0,442.0 361.0,446.7 366.9,452.5 371.5,446.7 378.5,446.7 382.0,444.4 387.9,449.5 393.7,447.9 398.4,450.2 400.7,443.2 403.0,438.5 407.7,443.2 412.4,441.6 419.4,442.0 422.9,438.5 427.6,430.4 433.4,423.3 436.0,417.0 440.7,405.0 443.3,406.3 446.4,403.1 447.9,401.7" fill="none" stroke="#000" stroke-width="2.8" stroke-linejoin="round"/>
<polyline points="454.6,387.3 460.9,357.0 464.7,355.8" fill="none" stroke="#000" stroke-width="2.8" stroke-linejoin="round"/>
<polyline points="41.5,505.2 55.6,504.6 71.1,504.0 82.8,505.2 94.5,507.1 106.1,509.9 117.8,512.4 129.5,514.3 135.0,513.8 147.8,512.8 160.7,510.6 173.5,508.5 186.4,504.2 199.2,499.5 212.0,493.5 224.9,488.1 235.6,484.9 245.0,482.2 250.7,482.0 261.4,482.4 270.0,483.1 278.5,481.4 291.4,477.1 304.2,473.2 317.0,468.5 329.9,463.8 340.6,460.0 349.3,456.0 358.7,450.2 368.0,446.2 377.4,443.9 386.7,442.7 400.7,442.0 414.7,442.0 428.7,441.1 442.7,439.2 447.4,438.5" fill="none" stroke="#0000ff" stroke-width="1.5"/>
<polyline points="41.5,466.6 47.8,466.3 54.6,466.7 59.5,465.7 65.3,464.7 69.2,465.7 75.0,471.5 80.9,477.4 86.7,479.3 91.6,481.3 96.4,484.2 102.3,487.1 108.1,492.0 113.9,495.9 119.8,498.8 125.6,502.7 129.5,503.2 135.3,502.1 139.3,503.1 145.7,502.1 152.1,498.8 158.5,495.6 165.0,493.5 172.4,493.9 177.8,493.5 184.2,492.4 188.5,488.1 192.8,482.8 199.2,478.5 205.6,476.4 212.0,473.8 222.7,471.7 231.3,472.5 239.9,470.0 246.4,471.1 256.0,469.2 261.4,474.9 265.7,477.5 270.0,476.0 278.5,472.4 287.1,471.7 295.6,469.6 304.2,464.2 310.6,462.1 321.3,461.0 329.9,458.9 338.4,455.3 347.0,451.0 349.3,450.2 358.7,446.2 368.0,443.2 377.4,441.6 386.7,440.2 400.7,439.7 414.7,439.7 428.7,439.2 442.7,438.8 447.4,438.5" fill="none" stroke="#ff0000" stroke-width="1.5"/>
<line x1="41.5" y1="439.4" x2="488.8" y2="439.4" stroke="#000" stroke-width="3" stroke-dasharray="9.4,4.6"/>
<rect x="47.8" y="465.9" width="14.2" height="45.0" fill="none" stroke="#b0694c" stroke-width="1.3"/>
<line x1="47.8" y1="483.9" x2="62.0" y2="483.9" stroke="#b0694c" stroke-width="1.3"/>
<line x1="54.9" y1="465.9" x2="54.9" y2="444.8" stroke="#b0694c" stroke-width="1.3"/>
<line x1="54.9" y1="510.9" x2="54.9" y2="569.6" stroke="#b0694c" stroke-width="1.3"/>
<line x1="51.2" y1="444.8" x2="58.6" y2="444.8" stroke="#b0694c" stroke-width="1.3"/>
<line x1="51.2" y1="569.6" x2="58.6" y2="569.6" stroke="#b0694c" stroke-width="1.3"/>
<circle cx="54.9" cy="366.6" r="2.9" fill="none" stroke="#333" stroke-width="1.2"/>
<rect x="148.6" y="469.9" width="14.2" height="29.9" fill="none" stroke="#b0694c" stroke-width="1.3"/>
<line x1="148.6" y1="491.2" x2="162.8" y2="491.2" stroke="#b0694c" stroke-width="1.3"/>
<line x1="155.7" y1="469.9" x2="155.7" y2="451.0" stroke="#b0694c" stroke-width="1.3"/>
<line x1="155.7" y1="499.8" x2="155.7" y2="511.7" stroke="#b0694c" stroke-width="1.3"/>
<line x1="152.0" y1="451.0" x2="159.4" y2="451.0" stroke="#b0694c" stroke-width="1.3"/>
<line x1="152.0" y1="511.7" x2="159.4" y2="511.7" stroke="#b0694c" stroke-width="1.3"/>
<circle cx="155.7" cy="413.5" r="2.9" fill="none" stroke="#333" stroke-width="1.2"/>
<circle cx="155.7" cy="545.2" r="2.9" fill="none" stroke="#333" stroke-width="1.2"/>
<circle cx="155.7" cy="570.8" r="2.9" fill="none" stroke="#333" stroke-width="1.2"/>
</g>
<rect x="41.5" y="19.3" width="447.3" height="589.3" fill="none" stroke="#3a3a3a" stroke-width="1"/>
<line x1="38" y1="547.3" x2="41.5" y2="547.3" stroke="#222" stroke-width="1"/>
<text x="28.3" y="551.1" font-size="10.6" fill="#111" textLength="7.0" lengthAdjust="spacingAndGlyphs">4</text>
<line x1="38" y1="459.3" x2="41.5" y2="459.3" stroke="#222" stroke-width="1"/>
<text x="28.3" y="463.1" font-size="10.6" fill="#111" textLength="7.0" lengthAdjust="spacingAndGlyphs">5</text>
<line x1="38" y1="371.3" x2="41.5" y2="371.3" stroke="#222" stroke-width="1"/>
<text x="28.3" y="375.1" font-size="10.6" fill="#111" textLength="7.0" lengthAdjust="spacingAndGlyphs">6</text>
<line x1="38" y1="283.3" x2="41.5" y2="283.3" stroke="#222" stroke-width="1"/>
<text x="28.3" y="287.1" font-size="10.6" fill="#111" textLength="7.0" lengthAdjust="spacingAndGlyphs">7</text>
<line x1="38" y1="195.3" x2="41.5" y2="195.3" stroke="#222" stroke-width="1"/>
<text x="28.3" y="199.1" font-size="10.6" fill="#111" textLength="7.0" lengthAdjust="spacingAndGlyphs">8</text>
<line x1="38" y1="107.3" x2="41.5" y2="107.3" stroke="#222" stroke-width="1"/>
<text x="28.3" y="111.1" font-size="10.6" fill="#111" textLength="7.0" lengthAdjust="spacingAndGlyphs">9</text>
<line x1="38" y1="19.3" x2="41.5" y2="19.3" stroke="#222" stroke-width="1"/>
<text x="21.5" y="23.1" font-size="10.6" fill="#111" textLength="12.5" lengthAdjust="spacingAndGlyphs">10</text>
<line x1="44.2" y1="608.6" x2="44.2" y2="610.8000000000001" stroke="#222" stroke-width="0.8"/>
<line x1="47.6" y1="608.6" x2="47.6" y2="610.8000000000001" stroke="#222" stroke-width="0.8"/>
<line x1="51.0" y1="608.6" x2="51.0" y2="610.8000000000001" stroke="#222" stroke-width="0.8"/>
<line x1="54.3" y1="608.6" x2="54.3" y2="610.8000000000001" stroke="#222" stroke-width="0.8"/>
<line x1="57.7" y1="608.6" x2="57.7" y2="610.8000000000001" stroke="#222" stroke-width="0.8"/>
<line x1="61.1" y1="608.6" x2="61.1" y2="610.8000000000001" stroke="#222" stroke-width="0.8"/>
<line x1="64.4" y1="608.6" x2="64.4" y2="610.8000000000001" stroke="#222" stroke-width="0.8"/>
<line x1="67.8" y1="608.6" x2="67.8" y2="610.8000000000001" stroke="#222" stroke-width="0.8"/>
<line x1="71.2" y1="608.6" x2="71.2" y2="610.8000000000001" stroke="#222" stroke-width="0.8"/>
<line x1="74.5" y1="608.6" x2="74.5" y2="610.8000000000001" stroke="#222" stroke-width="0.8"/>
<line x1="77.9" y1="608.6" x2="77.9" y2="610.8000000000001" stroke="#222" stroke-width="0.8"/>
<line x1="81.3" y1="608.6" x2="81.3" y2="610.8000000000001" stroke="#222" stroke-width="0.8"/>
<line x1="84.6" y1="608.6" x2="84.6" y2="610.8000000000001" stroke="#222" stroke-width="0.8"/>
<line x1="88.0" y1="608.6" x2="88.0" y2="610.8000000000001" stroke="#222" stroke-width="0.8"/>
<line x1="91.4" y1="608.6" x2="91.4" y2="610.8000000000001" stroke="#222" stroke-width="0.8"/>
<line x1="94.7" y1="608.6" x2="94.7" y2="610.8000000000001" stroke="#222" stroke-width="0.8"/>
<line x1="98.1" y1="608.6" x2="98.1" y2="610.8000000000001" stroke="#222" stroke-width="0.8"/>
<line x1="101.5" y1="608.6" x2="101.5" y2="610.8000000000001" stroke="#222" stroke-width="0.8"/>
<line x1="104.8" y1="608.6" x2="104.8" y2="610.8000000000001" stroke="#222" stroke-width="0.8"/>
<line x1="108.2" y1="608.6" x2="108.2" y2="610.8000000000001" stroke="#222" stroke-width="0.8"/>
<line x1="111.6" y1="608.6" x2="111.6" y2="610.8000000000001" stroke="#222" stroke-width="0.8"/>
<line x1="114.9" y1="608.6" x2="114.9" y2="610.8000000000001" stroke="#222" stroke-width="0.8"/>
<line x1="118.3" y1="608.6" x2="118.3" y2="610.8000000000001" stroke="#222" stroke-width="0.8"/>
<line x1="121.7" y1="608.6" x2="121.7" y2="610.8000000000001" stroke="#222" stroke-width="0.8"/>
<line x1="125.0" y1="608.6" x2="125.0" y2="610.8000000000001" stroke="#222" stroke-width="0.8"/>
<line x1="128.4" y1="608.6" x2="128.4" y2="610.8000000000001" stroke="#222" stroke-width="0.8"/>
<line x1="131.7" y1="608.6" x2="131.7" y2="610.8000000000001" stroke="#222" stroke-width="0.8"/>
<line x1="135.1" y1="608.6" x2="135.1" y2="610.8000000000001" stroke="#222" stroke-width="0.8"/>
<line x1="138.5" y1="608.6" x2="138.5" y2="610.8000000000001" stroke="#222" stroke-width="0.8"/>
<line x1="141.8" y1="608.6" x2="141.8" y2="610.8000000000001" stroke="#222" stroke-width="0.8"/>
<line x1="145.2" y1="608.6" x2="145.2" y2="610.8000000000001" stroke="#222" stroke-width="0.8"/>
<line x1="148.6" y1="608.6" x2="148.6" y2="610.8000000000001" stroke="#222" stroke-width="0.8"/>
<line x1="151.9" y1="608.6" x2="151.9" y2="610.8000000000001" stroke="#222" stroke-width="0.8"/>
<line x1="155.3" y1="608.6" x2="155.3" y2="610.8000000000001" stroke="#222" stroke-width="0.8"/>
<line x1="158.7" y1="608.6" x2="158.7" y2="610.8000000000001" stroke="#222" stroke-width="0.8"/>
<line x1="162.0" y1="608.6" x2="162.0" y2="610.8000000000001" stroke="#222" stroke-width="0.8"/>
<line x1="165.4" y1="608.6" x2="165.4" y2="610.8000000000001" stroke="#222" stroke-width="0.8"/>
<line x1="168.8" y1="608.6" x2="168.8" y2="610.8000000000001" stroke="#222" stroke-width="0.8"/>
<line x1="172.1" y1="608.6" x2="172.1" y2="610.8000000000001" stroke="#222" stroke-width="0.8"/>
<line x1="175.5" y1="608.6" x2="175.5" y2="610.8000000000001" stroke="#222" stroke-width="0.8"/>
<line x1="178.9" y1="608.6" x2="178.9" y2="610.8000000000001" stroke="#222" stroke-width="0.8"/>
<line x1="182.2" y1="608.6" x2="182.2" y2="610.8000000000001" stroke="#222" stroke-width="0.8"/>
<line x1="185.6" y1="608.6" x2="185.6" y2="610.8000000000001" stroke="#222" stroke-width="0.8"/>
<line x1="189.0" y1="608.6" x2="189.0" y2="610.8000000000001" stroke="#222" stroke-width="0.8"/>
<line x1="192.3" y1="608.6" x2="192.3" y2="610.8000000000001" stroke="#222" stroke-width="0.8"/>
<line x1="195.7" y1="608.6" x2="195.7" y2="610.8000000000001" stroke="#222" stroke-width="0.8"/>
<line x1="199.1" y1="608.6" x2="199.1" y2="610.8000000000001" stroke="#222" stroke-width="0.8"/>
<line x1="202.4" y1="608.6" x2="202.4" y2="610.8000000000001" stroke="#222" stroke-width="0.8"/>
<line x1="205.8" y1="608.6" x2="205.8" y2="610.8000000000001" stroke="#222" stroke-width="0.8"/>
<line x1="209.2" y1="608.6" x2="209.2" y2="610.8000000000001" stroke="#222" stroke-width="0.8"/>
<line x1="212.5" y1="608.6" x2="212.5" y2="610.8000000000001" stroke="#222" stroke-width="0.8"/>
<line x1="215.9" y1="608.6" x2="215.9" y2="610.8000000000001" stroke="#222" stroke-width="0.8"/>
<line x1="219.3" y1="608.6" x2="219.3" y2="610.8000000000001" stroke="#222" stroke-width="0.8"/>
<line x1="222.6" y1="608.6" x2="222.6" y2="610.8000000000001" stroke="#222" stroke-width="0.8"/>
<line x1="226.0" y1="608.6" x2="226.0" y2="610.8000000000001" stroke="#222" stroke-width="0.8"/>
<line x1="229.4" y1="608.6" x2="229.4" y2="610.8000000000001" stroke="#222" stroke-width="0.8"/>
<line x1="232.7" y1="608.6" x2="232.7" y2="610.8000000000001" stroke="#222" stroke-width="0.8"/>
<line x1="236.1" y1="608.6" x2="236.1" y2="610.8000000000001" stroke="#222" stroke-width="0.8"/>
<line x1="239.5" y1="608.6" x2="239.5" y2="610.8000000000001" stroke="#222" stroke-width="0.8"/>
<line x1="242.8" y1="608.6" x2="242.8" y2="610.8000000000001" stroke="#222" stroke-width="0.8"/>
<line x1="246.2" y1="608.6" x2="246.2" y2="610.8000000000001" stroke="#222" stroke-width="0.8"/>
<line x1="249.6" y1="608.6" x2="249.6" y2="610.8000000000001" stroke="#222" stroke-width="0.8"/>
<line x1="252.9" y1="608.6" x2="252.9" y2="610.8000000000001" stroke="#222" stroke-width="0.8"/>
<line x1="256.3" y1="608.6" x2="256.3" y2="610.8000000000001" stroke="#222" stroke-width="0.8"/>
<line x1="259.7" y1="608.6" x2="259.7" y2="610.8000000000001" stroke="#222" stroke-width="0.8"/>
<line x1="263.0" y1="608.6" x2="263.0" y2="610.8000000000001" stroke="#222" stroke-width="0.8"/>
<line x1="266.4" y1="608.6" x2="266.4" y2="610.8000000000001" stroke="#222" stroke-width="0.8"/>
<line x1="269.8" y1="608.6" x2="269.8" y2="610.8000000000001" stroke="#222" stroke-width="0.8"/>
<line x1="273.1" y1="608.6" x2="273.1" y2="610.8000000000001" stroke="#222" stroke-width="0.8"/>
<line x1="276.5" y1="608.6" x2="276.5" y2="610.8000000000001" stroke="#222" stroke-width="0.8"/>
<line x1="279.9" y1="608.6" x2="279.9" y2="610.8000000000001" stroke="#222" stroke-width="0.8"/>
<line x1="283.2" y1="608.6" x2="283.2" y2="610.8000000000001" stroke="#222" stroke-width="0.8"/>
<line x1="286.6" y1="608.6" x2="286.6" y2="610.8000000000001" stroke="#222" stroke-width="0.8"/>
<line x1="290.0" y1="608.6" x2="290.0" y2="610.8000000000001" stroke="#222" stroke-width="0.8"/>
<line x1="293.3" y1="608.6" x2="293.3" y2="610.8000000000001" stroke="#222" stroke-width="0.8"/>
<line x1="296.7" y1="608.6" x2="296.7" y2="610.8000000000001" stroke="#222" stroke-width="0.8"/>
<line x1="300.0" y1="608.6" x2="300.0" y2="610.8000000000001" stroke="#222" stroke-width="0.8"/>
<line x1="303.4" y1="608.6" x2="303.4" y2="610.8000000000001" stroke="#222" stroke-width="0.8"/>
<line x1="306.8" y1="608.6" x2="306.8" y2="610.8000000000001" stroke="#222" stroke-width="0.8"/>
<line x1="310.1" y1="608.6" x2="310.1" y2="610.8000000000001" stroke="#222" stroke-width="0.8"/>
<line x1="313.5" y1="608.6" x2="313.5" y2="610.8000000000001" stroke="#222" stroke-width="0.8"/>
<line x1="316.9" y1="608.6" x2="316.9" y2="610.8000000000001" stroke="#222" stroke-width="0.8"/>
<line x1="320.2" y1="608.6" x2="320.2" y2="610.8000000000001" stroke="#222" stroke-width="0.8"/>
<line x1="323.6" y1="608.6" x2="323.6" y2="610.8000000000001" stroke="#222" stroke-width="0.8"/>
<line x1="327.0" y1="608.6" x2="327.0" y2="610.8000000000001" stroke="#222" stroke-width="0.8"/>
<line x1="330.3" y1="608.6" x2="330.3" y2="610.8000000000001" stroke="#222" stroke-width="0.8"/>
<line x1="333.7" y1="608.6" x2="333.7" y2="610.8000000000001" stroke="#222" stroke-width="0.8"/>
<line x1="337.1" y1="608.6" x2="337.1" y2="610.8000000000001" stroke="#222" stroke-width="0.8"/>
<line x1="340.4" y1="608.6" x2="340.4" y2="610.8000000000001" stroke="#222" stroke-width="0.8"/>
<line x1="343.8" y1="608.6" x2="343.8" y2="610.8000000000001" stroke="#222" stroke-width="0.8"/>
<line x1="347.2" y1="608.6" x2="347.2" y2="610.8000000000001" stroke="#222" stroke-width="0.8"/>
<line x1="350.5" y1="608.6" x2="350.5" y2="610.8000000000001" stroke="#222" stroke-width="0.8"/>
<line x1="353.9" y1="608.6" x2="353.9" y2="610.8000000000001" stroke="#222" stroke-width="0.8"/>
<line x1="357.3" y1="608.6" x2="357.3" y2="610.8000000000001" stroke="#222" stroke-width="0.8"/>
<line x1="360.6" y1="608.6" x2="360.6" y2="610.8000000000001" stroke="#222" stroke-width="0.8"/>
<line x1="364.0" y1="608.6" x2="364.0" y2="610.8000000000001" stroke="#222" stroke-width="0.8"/>
<line x1="367.4" y1="608.6" x2="367.4" y2="610.8000000000001" stroke="#222" stroke-width="0.8"/>
<line x1="370.7" y1="608.6" x2="370.7" y2="610.8000000000001" stroke="#222" stroke-width="0.8"/>
<line x1="374.1" y1="608.6" x2="374.1" y2="610.8000000000001" stroke="#222" stroke-width="0.8"/>
<line x1="377.5" y1="608.6" x2="377.5" y2="610.8000000000001" stroke="#222" stroke-width="0.8"/>
<line x1="380.8" y1="608.6" x2="380.8" y2="610.8000000000001" stroke="#222" stroke-width="0.8"/>
<line x1="384.2" y1="608.6" x2="384.2" y2="610.8000000000001" stroke="#222" stroke-width="0.8"/>
<line x1="387.6" y1="608.6" x2="387.6" y2="610.8000000000001" stroke="#222" stroke-width="0.8"/>
<line x1="390.9" y1="608.6" x2="390.9" y2="610.8000000000001" stroke="#222" stroke-width="0.8"/>
<line x1="394.3" y1="608.6" x2="394.3" y2="610.8000000000001" stroke="#222" stroke-width="0.8"/>
<line x1="397.7" y1="608.6" x2="397.7" y2="610.8000000000001" stroke="#222" stroke-width="0.8"/>
<line x1="401.0" y1="608.6" x2="401.0" y2="610.8000000000001" stroke="#222" stroke-width="0.8"/>
<line x1="404.4" y1="608.6" x2="404.4" y2="610.8000000000001" stroke="#222" stroke-width="0.8"/>
<line x1="407.8" y1="608.6" x2="407.8" y2="610.8000000000001" stroke="#222" stroke-width="0.8"/>
<line x1="411.1" y1="608.6" x2="411.1" y2="610.8000000000001" stroke="#222" stroke-width="0.8"/>
<line x1="414.5" y1="608.6" x2="414.5" y2="610.8000000000001" stroke="#222" stroke-width="0.8"/>
<line x1="417.9" y1="608.6" x2="417.9" y2="610.8000000000001" stroke="#222" stroke-width="0.8"/>
<line x1="421.2" y1="608.6" x2="421.2" y2="610.8000000000001" stroke="#222" stroke-width="0.8"/>
<line x1="424.6" y1="608.6" x2="424.6" y2="610.8000000000001" stroke="#222" stroke-width="0.8"/>
<line x1="428.0" y1="608.6" x2="428.0" y2="610.8000000000001" stroke="#222" stroke-width="0.8"/>
<line x1="431.3" y1="608.6" x2="431.3" y2="610.8000000000001" stroke="#222" stroke-width="0.8"/>
<line x1="434.7" y1="608.6" x2="434.7" y2="610.8000000000001" stroke="#222" stroke-width="0.8"/>
<line x1="438.1" y1="608.6" x2="438.1" y2="610.8000000000001" stroke="#222" stroke-width="0.8"/>
<line x1="441.4" y1="608.6" x2="441.4" y2="610.8000000000001" stroke="#222" stroke-width="0.8"/>
<line x1="444.8" y1="608.6" x2="444.8" y2="610.8000000000001" stroke="#222" stroke-width="0.8"/>
<line x1="448.2" y1="608.6" x2="448.2" y2="610.8000000000001" stroke="#222" stroke-width="0.8"/>
<line x1="451.5" y1="608.6" x2="451.5" y2="610.8000000000001" stroke="#222" stroke-width="0.8"/>
<line x1="454.9" y1="608.6" x2="454.9" y2="610.8000000000001" stroke="#222" stroke-width="0.8"/>
<line x1="458.2" y1="608.6" x2="458.2" y2="610.8000000000001" stroke="#222" stroke-width="0.8"/>
<line x1="461.6" y1="608.6" x2="461.6" y2="610.8000000000001" stroke="#222" stroke-width="0.8"/>
<line x1="465.0" y1="608.6" x2="465.0" y2="610.8000000000001" stroke="#222" stroke-width="0.8"/>
<line x1="468.3" y1="608.6" x2="468.3" y2="610.8000000000001" stroke="#222" stroke-width="0.8"/>
<line x1="471.7" y1="608.6" x2="471.7" y2="610.8000000000001" stroke="#222" stroke-width="0.8"/>
<line x1="475.1" y1="608.6" x2="475.1" y2="610.8000000000001" stroke="#222" stroke-width="0.8"/>
<line x1="478.4" y1="608.6" x2="478.4" y2="610.8000000000001" stroke="#222" stroke-width="0.8"/>
<line x1="481.8" y1="608.6" x2="481.8" y2="610.8000000000001" stroke="#222" stroke-width="0.8"/>
<line x1="485.2" y1="608.6" x2="485.2" y2="610.8000000000001" stroke="#222" stroke-width="0.8"/>
<line x1="138.5" y1="608.6" x2="138.5" y2="617.2" stroke="#000" stroke-width="1.3"/>
<line x1="243.2" y1="608.6" x2="243.2" y2="617.2" stroke="#000" stroke-width="1.3"/>
<line x1="347.3" y1="608.6" x2="347.3" y2="617.2" stroke="#000" stroke-width="1.3"/>
<line x1="448.2" y1="608.6" x2="448.2" y2="617.2" stroke="#000" stroke-width="1.3"/>
<text x="73.7" y="626.4" font-size="10.6" fill="#111" textLength="23.7" lengthAdjust="spacingAndGlyphs">June</text>
<text x="176.5" y="626.4" font-size="10.6" fill="#111" textLength="20.0" lengthAdjust="spacingAndGlyphs">July</text>
<text x="273.0" y="626.4" font-size="10.6" fill="#111" textLength="37.0" lengthAdjust="spacingAndGlyphs">August</text>
<text x="366.5" y="626.4" font-size="10.6" fill="#111" textLength="58.1" lengthAdjust="spacingAndGlyphs">September</text>
<text transform="translate(13.9,314.3) rotate(-90)" text-anchor="middle" font-size="10.3" fill="#111" textLength="166.5" lengthAdjust="spacingAndGlyphs">Arctic sea ice extent (x10<tspan font-size="7" dy="-4">6</tspan><tspan dy="4"> km</tspan><tspan font-size="7" dy="-4">2</tspan><tspan dy="4">)</tspan></text>
<rect x="207.5" y="24.4" width="275.3" height="106.2" rx="2" fill="#fff" fill-opacity="0.8" stroke="#d6d6d6" stroke-width="1"/>
<line x1="210.7" y1="32.5" x2="233.9" y2="32.5" stroke="#c6c6c6" stroke-width="1"/>
<line x1="210.7" y1="47.1" x2="233.9" y2="47.1" stroke="#000" stroke-width="2.8"/>
<rect x="210.7" y="58" width="23.2" height="8" fill="#ececfe"/>
<line x1="210.7" y1="76.6" x2="233.9" y2="76.6" stroke="#0000ff" stroke-width="1.5"/>
<rect x="210.7" y="87.3" width="23.2" height="8" fill="#fdecec"/>
<line x1="210.7" y1="106" x2="233.9" y2="106" stroke="#ff0000" stroke-width="1.5"/>
<line x1="210.7" y1="120.7" x2="233.9" y2="120.7" stroke="#000" stroke-width="3" stroke-dasharray="10,4.6"/>
<text x="240.8" y="36.1" font-size="10.6" fill="#111" textLength="77.5" lengthAdjust="spacingAndGlyphs">Previous years</text>
<text x="240.8" y="50.7" font-size="10.6" fill="#111" textLength="26.0" lengthAdjust="spacingAndGlyphs">2025</text>
<text x="240.8" y="65.6" font-size="10.6" fill="#111" textLength="238.0" lengthAdjust="spacingAndGlyphs">Correlated anomalies prediction: uncertainty</text>
<text x="240.8" y="80.2" font-size="10.6" fill="#111" textLength="207.0" lengthAdjust="spacingAndGlyphs">Correlated anomalies prediction: mean</text>
<text x="240.8" y="94.9" font-size="10.6" fill="#111" textLength="177.0" lengthAdjust="spacingAndGlyphs">Trajectory prediction: uncertainty</text>
<text x="240.8" y="109.6" font-size="10.6" fill="#111" textLength="156.0" lengthAdjust="spacingAndGlyphs">Trajectory prediction: median</text>
<text x="240.8" y="124.3" font-size="10.6" fill="#111" textLength="133.5" lengthAdjust="spacingAndGlyphs">Actual September extent</text>
</svg>
</body></html>
